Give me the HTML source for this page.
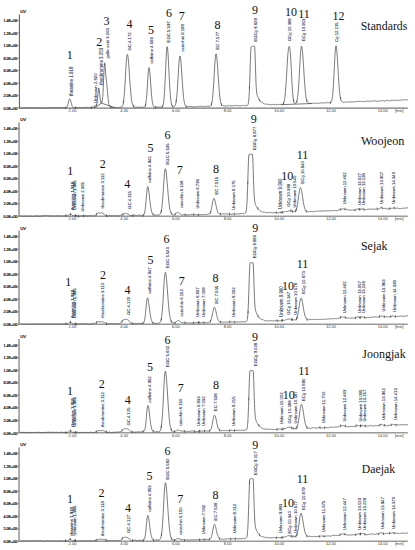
<!DOCTYPE html>
<html><head><meta charset="utf-8"><title>Chromatograms</title><style>
html,body{margin:0;padding:0;background:#fff;}
body{width:415px;height:550px;overflow:hidden;}
svg{display:block;}
.yt{font-family:"Liberation Sans",sans-serif;font-size:4.2px;fill:#111;stroke:#111;stroke-width:0.22px;text-anchor:end;}
.uv{font-family:"Liberation Sans",sans-serif;font-size:4.3px;fill:#111;stroke:#111;stroke-width:0.2px;}
.xt{font-family:"Liberation Sans",sans-serif;font-size:4.0px;fill:#333;text-anchor:middle;}
.pl{font-family:"Liberation Sans",sans-serif;font-size:4.25px;fill:#223050;stroke:#223050;stroke-width:0.08px;}
.plb{font-size:4.3px;stroke:#2b3a55;stroke-width:0.15px;}
.plm{font-size:4.45px;}
.num{font-family:"Liberation Serif",serif;font-size:12px;fill:#111;text-anchor:middle;}
.ttl{font-family:"Liberation Serif",serif;font-size:12.6px;fill:#111;}
</style></head>
<body>
<svg width="415" height="550" viewBox="0 0 415 550">
<rect width="415" height="550" fill="#fff"/>
<g><line x1="19.4" y1="14.40" x2="19.4" y2="108.10" stroke="#555" stroke-width="1.0"/><line x1="18.9" y1="108.10" x2="407.8" y2="108.10" stroke="#555" stroke-width="1.0"/><line x1="17.4" y1="108.10" x2="19.4" y2="108.10" stroke="#555" stroke-width="0.6"/><text x="17.2" y="109.80" class="yt" textLength="13.7" lengthAdjust="spacingAndGlyphs">0.0E+00</text><line x1="17.4" y1="95.57" x2="19.4" y2="95.57" stroke="#555" stroke-width="0.6"/><text x="17.2" y="97.27" class="yt" textLength="13.7" lengthAdjust="spacingAndGlyphs">2.0E+05</text><line x1="17.4" y1="83.04" x2="19.4" y2="83.04" stroke="#555" stroke-width="0.6"/><text x="17.2" y="84.74" class="yt" textLength="13.7" lengthAdjust="spacingAndGlyphs">4.0E+05</text><line x1="17.4" y1="70.51" x2="19.4" y2="70.51" stroke="#555" stroke-width="0.6"/><text x="17.2" y="72.21" class="yt" textLength="13.7" lengthAdjust="spacingAndGlyphs">6.0E+05</text><line x1="17.4" y1="57.98" x2="19.4" y2="57.98" stroke="#555" stroke-width="0.6"/><text x="17.2" y="59.68" class="yt" textLength="13.7" lengthAdjust="spacingAndGlyphs">8.0E+05</text><line x1="17.4" y1="45.45" x2="19.4" y2="45.45" stroke="#555" stroke-width="0.6"/><text x="17.2" y="47.15" class="yt" textLength="13.7" lengthAdjust="spacingAndGlyphs">1.0E+06</text><line x1="17.4" y1="32.92" x2="19.4" y2="32.92" stroke="#555" stroke-width="0.6"/><text x="17.2" y="34.62" class="yt" textLength="13.7" lengthAdjust="spacingAndGlyphs">1.2E+06</text><line x1="17.4" y1="20.39" x2="19.4" y2="20.39" stroke="#555" stroke-width="0.6"/><text x="17.2" y="22.09" class="yt" textLength="13.7" lengthAdjust="spacingAndGlyphs">1.4E+06</text><text x="20.2" y="13.30" class="uv">UV</text><text x="72.50" y="111.80" class="xt">2.00</text><text x="124.20" y="111.80" class="xt">4.00</text><text x="175.90" y="111.80" class="xt">6.00</text><text x="227.60" y="111.80" class="xt">8.00</text><text x="279.30" y="111.80" class="xt">10.00</text><text x="331.00" y="111.80" class="xt">12.00</text><text x="382.70" y="111.80" class="xt">14.00</text><text x="399.3" y="111.80" class="xt">[min]</text><path d="M20.00,107.58 L20.25,107.72 L20.50,107.73 L20.75,107.80 L21.00,107.97 L21.25,108.04 L21.50,108.04 L21.75,107.96 L22.00,107.95 L22.25,107.95 L22.50,107.89 L22.75,107.89 L23.00,107.87 L23.25,107.86 L23.50,107.75 L23.75,107.68 L24.00,107.69 L24.25,107.61 L24.50,107.51 L24.75,107.48 L25.00,107.53 L25.25,107.66 L25.50,107.61 L25.75,107.56 L26.00,107.62 L26.25,107.70 L26.50,107.73 L26.75,107.70 L27.00,107.67 L27.25,107.72 L27.50,107.69 L27.75,107.70 L28.00,107.63 L28.25,107.61 L28.50,107.68 L28.75,107.75 L29.00,107.79 L29.25,107.74 L29.50,107.74 L29.75,107.71 L30.00,107.72 L30.25,107.67 L30.50,107.74 L30.75,107.65 L31.00,107.79 L31.25,107.74 L31.50,107.86 L31.75,107.93 L32.00,107.83 L32.25,107.65 L32.50,107.79 L32.75,107.84 L33.00,107.89 L33.25,107.77 L33.50,107.73 L33.75,107.79 L34.00,107.93 L34.25,107.82 L34.50,107.67 L34.75,107.69 L35.00,107.82 L35.25,107.88 L35.50,107.85 L35.75,107.90 L36.00,107.94 L36.25,108.06 L36.50,108.05 L36.75,107.97 L37.00,107.93 L37.25,107.88 L37.50,107.75 L37.75,107.66 L38.00,107.61 L38.25,107.63 L38.50,107.59 L38.75,107.77 L39.00,107.86 L39.25,107.87 L39.50,108.03 L39.75,107.99 L40.00,108.00 L40.25,108.17 L40.50,108.01 L40.75,108.07 L41.00,108.11 L41.25,108.04 L41.50,107.99 L41.75,107.95 L42.00,107.81 L42.25,107.77 L42.50,107.82 L42.75,107.71 L43.00,107.77 L43.25,107.82 L43.50,107.89 L43.75,107.95 L44.00,108.00 L44.25,107.77 L44.50,107.80 L44.75,107.77 L45.00,107.82 L45.25,107.82 L45.50,107.76 L45.75,107.77 L46.00,107.84 L46.25,107.97 L46.50,107.95 L46.75,107.98 L47.00,107.96 L47.25,107.91 L47.50,107.87 L47.75,107.88 L48.00,107.72 L48.25,107.63 L48.50,107.66 L48.75,107.59 L49.00,107.74 L49.25,107.75 L49.50,107.67 L49.75,107.75 L50.00,107.84 L50.25,107.75 L50.50,107.78 L50.75,107.67 L51.00,107.71 L51.25,107.76 L51.50,107.70 L51.75,107.69 L52.00,107.68 L52.25,107.64 L52.50,107.58 L52.75,107.51 L53.00,107.53 L53.25,107.60 L53.50,107.65 L53.75,107.70 L54.00,107.68 L54.25,107.68 L54.50,107.70 L54.75,107.77 L55.00,107.74 L55.25,107.57 L55.50,107.46 L55.75,107.56 L56.00,107.62 L56.25,107.72 L56.50,107.75 L56.75,107.76 L57.00,107.86 L57.25,107.88 L57.50,107.76 L57.75,107.71 L58.00,107.54 L58.25,107.51 L58.50,107.59 L58.75,107.56 L59.00,107.45 L59.25,107.51 L59.50,107.63 L59.75,107.69 L60.00,107.57 L60.25,107.57 L60.50,107.55 L60.75,107.75 L61.00,107.69 L61.25,107.57 L61.50,107.57 L61.75,107.53 L62.00,107.50 L62.25,107.59 L62.50,107.44 L62.75,107.57 L63.00,107.48 L63.25,107.50 L63.50,107.68 L63.75,107.66 L64.00,107.61 L64.25,107.71 L64.50,107.67 L64.75,107.73 L65.00,107.87 L65.25,107.83 L65.50,107.83 L65.75,107.70 L66.00,107.78 L66.25,107.70 L66.50,107.70 L66.75,107.39 L67.00,107.01 L67.25,106.54 L67.50,105.98 L67.75,105.17 L68.00,104.25 L68.25,103.12 L68.50,101.97 L68.75,100.99 L69.00,100.03 L69.25,99.45 L69.50,98.87 L69.75,98.77 L70.00,99.05 L70.25,99.55 L70.50,100.17 L70.75,100.98 L71.00,101.87 L71.25,102.96 L71.50,103.85 L71.75,104.73 L72.00,105.57 L72.25,106.16 L72.50,106.76 L72.75,107.03 L73.00,107.33 L73.25,107.72 L73.50,107.77 L73.75,107.73 L74.00,107.74 L74.25,107.71 L74.50,107.78 L74.75,107.69 L75.00,107.54 L75.25,107.55 L75.50,107.65 L75.75,107.71 L76.00,107.79 L76.25,107.84 L76.50,107.83 L76.75,107.75 L77.00,107.82 L77.25,107.61 L77.50,107.68 L77.75,107.58 L78.00,107.50 L78.25,107.52 L78.50,107.57 L78.75,107.40 L79.00,107.47 L79.25,107.40 L79.50,107.56 L79.75,107.67 L80.00,107.61 L80.25,107.61 L80.50,107.78 L80.75,107.87 L81.00,107.91 L81.25,107.76 L81.50,107.69 L81.75,107.70 L82.00,107.76 L82.25,107.64 L82.50,107.63 L82.75,107.63 L83.00,107.57 L83.25,107.59 L83.50,107.66 L83.75,107.62 L84.00,107.70 L84.25,107.58 L84.50,107.48 L84.75,107.54 L85.00,107.53 L85.25,107.46 L85.50,107.45 L85.75,107.40 L86.00,107.47 L86.25,107.54 L86.50,107.49 L86.75,107.39 L87.00,107.37 L87.25,107.48 L87.50,107.39 L87.75,107.37 L88.00,107.40 L88.25,107.50 L88.50,107.53 L88.75,107.54 L89.00,107.36 L89.25,107.46 L89.50,107.49 L89.75,107.40 L90.00,107.40 L90.25,107.51 L90.50,107.60 L90.75,107.64 L91.00,107.61 L91.25,107.45 L91.50,107.55 L91.75,107.49 L92.00,107.40 L92.25,107.31 L92.50,107.17 L92.75,107.06 L93.00,107.15 L93.25,107.04 L93.50,107.08 L93.75,107.00 L94.00,106.86 L94.25,106.87 L94.50,106.80 L94.75,106.65 L95.00,106.47 L95.25,106.20 L95.50,106.06 L95.75,106.02 L96.00,105.86 L96.25,105.53 L96.50,105.12 L96.75,104.41 L97.00,103.28 L97.25,101.67 L97.50,99.31 L97.75,96.52 L98.00,93.73 L98.25,91.04 L98.50,88.91 L98.75,88.03 L99.00,88.25 L99.25,89.74 L99.50,91.98 L99.75,94.54 L100.00,97.01 L100.25,99.25 L100.50,100.81 L100.75,101.80 L101.00,102.42 L101.25,102.77 L101.50,102.69 L101.75,102.59 L102.00,101.96 L102.25,100.81 L102.50,99.01 L102.75,96.32 L103.00,92.54 L103.25,87.78 L103.50,82.05 L103.75,76.13 L104.00,70.87 L104.25,66.62 L104.50,64.18 L104.75,63.66 L105.00,65.09 L105.25,67.77 L105.50,71.14 L105.75,74.16 L106.00,76.96 L106.25,79.19 L106.50,81.36 L106.75,83.76 L107.00,86.16 L107.25,88.73 L107.50,91.68 L107.75,94.45 L108.00,97.27 L108.25,99.71 L108.50,101.74 L108.75,103.50 L109.00,104.72 L109.25,105.45 L109.50,106.16 L109.75,106.45 L110.00,106.66 L110.25,106.68 L110.50,106.79 L110.75,106.96 L111.00,107.03 L111.25,106.97 L111.50,107.08 L111.75,107.19 L112.00,107.31 L112.25,107.32 L112.50,107.27 L112.75,107.32 L113.00,107.44 L113.25,107.43 L113.50,107.42 L113.75,107.49 L114.00,107.49 L114.25,107.48 L114.50,107.42 L114.75,107.36 L115.00,107.40 L115.25,107.47 L115.50,107.40 L115.75,107.44 L116.00,107.47 L116.25,107.57 L116.50,107.62 L116.75,107.60 L117.00,107.59 L117.25,107.68 L117.50,107.77 L117.75,107.77 L118.00,107.63 L118.25,107.66 L118.50,107.61 L118.75,107.62 L119.00,107.54 L119.25,107.34 L119.50,107.41 L119.75,107.49 L120.00,107.35 L120.25,107.32 L120.50,107.23 L120.75,107.36 L121.00,107.44 L121.25,107.23 L121.50,107.02 L121.75,106.90 L122.00,106.72 L122.25,106.42 L122.50,105.93 L122.75,105.32 L123.00,104.42 L123.25,103.35 L123.50,101.97 L123.75,99.98 L124.00,97.74 L124.25,94.81 L124.50,91.56 L124.75,87.98 L125.00,83.92 L125.25,79.54 L125.50,75.09 L125.75,70.55 L126.00,66.38 L126.25,62.52 L126.50,59.31 L126.75,56.82 L127.00,55.09 L127.25,54.40 L127.50,54.52 L127.75,55.24 L128.00,56.73 L128.25,58.79 L128.50,61.52 L128.75,64.71 L129.00,68.05 L129.25,71.73 L129.50,75.62 L129.75,79.34 L130.00,83.08 L130.25,86.46 L130.50,89.69 L130.75,92.84 L131.00,95.41 L131.25,97.61 L131.50,99.59 L131.75,101.11 L132.00,102.50 L132.25,103.52 L132.50,104.25 L132.75,104.93 L133.00,105.46 L133.25,105.86 L133.50,106.21 L133.75,106.45 L134.00,106.69 L134.25,106.83 L134.50,106.98 L134.75,107.14 L135.00,107.11 L135.25,107.09 L135.50,107.06 L135.75,107.04 L136.00,107.08 L136.25,107.18 L136.50,107.24 L136.75,107.32 L137.00,107.39 L137.25,107.41 L137.50,107.32 L137.75,107.33 L138.00,107.19 L138.25,107.13 L138.50,107.06 L138.75,106.99 L139.00,107.08 L139.25,107.07 L139.50,107.07 L139.75,107.27 L140.00,107.26 L140.25,107.34 L140.50,107.44 L140.75,107.37 L141.00,107.41 L141.25,107.30 L141.50,107.11 L141.75,107.04 L142.00,106.98 L142.25,107.05 L142.50,107.05 L142.75,107.07 L143.00,107.31 L143.25,107.32 L143.50,107.33 L143.75,107.41 L144.00,107.23 L144.25,107.16 L144.50,107.04 L144.75,106.65 L145.00,106.36 L145.25,105.95 L145.50,105.13 L145.75,104.06 L146.00,102.49 L146.25,100.57 L146.50,98.25 L146.75,95.42 L147.00,91.93 L147.25,88.16 L147.50,84.03 L147.75,79.92 L148.00,76.02 L148.25,72.61 L148.50,69.91 L148.75,68.18 L149.00,67.63 L149.25,68.03 L149.50,69.38 L149.75,71.41 L150.00,74.07 L150.25,77.18 L150.50,80.87 L150.75,84.41 L151.00,87.98 L151.25,91.39 L151.50,94.53 L151.75,97.18 L152.00,99.49 L152.25,101.28 L152.50,102.77 L152.75,104.12 L153.00,104.92 L153.25,105.65 L153.50,106.19 L153.75,106.46 L154.00,106.72 L154.25,107.02 L154.50,107.02 L154.75,107.21 L155.00,107.23 L155.25,107.24 L155.50,107.38 L155.75,107.39 L156.00,107.35 L156.25,107.26 L156.50,107.24 L156.75,107.11 L157.00,107.15 L157.25,107.07 L157.50,107.08 L157.75,107.05 L158.00,107.10 L158.25,107.09 L158.50,107.27 L158.75,107.21 L159.00,107.25 L159.25,107.14 L159.50,107.17 L159.75,107.22 L160.00,107.18 L160.25,107.16 L160.50,107.12 L160.75,107.15 L161.00,107.15 L161.25,107.07 L161.50,107.02 L161.75,107.10 L162.00,106.89 L162.25,106.72 L162.50,106.44 L162.75,106.06 L163.00,105.47 L163.25,104.52 L163.50,103.02 L163.75,101.21 L164.00,98.90 L164.25,95.78 L164.50,92.05 L164.75,87.70 L165.00,82.75 L165.25,77.40 L165.50,71.63 L165.75,65.69 L166.00,60.11 L166.25,55.19 L166.50,51.18 L166.75,48.35 L167.00,46.77 L167.25,46.84 L167.50,48.09 L167.75,50.49 L168.00,53.70 L168.25,57.66 L168.50,62.35 L168.75,67.40 L169.00,72.37 L169.25,77.49 L169.50,82.42 L169.75,86.77 L170.00,90.69 L170.25,94.07 L170.50,97.00 L170.75,99.61 L171.00,101.44 L171.25,102.80 L171.50,104.11 L171.75,105.02 L172.00,105.63 L172.25,105.97 L172.50,106.20 L172.75,106.36 L173.00,106.55 L173.25,106.63 L173.50,106.66 L173.75,106.66 L174.00,106.69 L174.25,106.52 L174.50,106.38 L174.75,106.16 L175.00,105.71 L175.25,105.19 L175.50,104.39 L175.75,103.49 L176.00,102.42 L176.25,100.91 L176.50,98.88 L176.75,96.62 L177.00,93.80 L177.25,90.61 L177.50,86.88 L177.75,82.88 L178.00,78.70 L178.25,74.34 L178.50,69.97 L178.75,65.95 L179.00,62.49 L179.25,59.51 L179.50,57.35 L179.75,56.21 L180.00,55.99 L180.25,56.63 L180.50,57.98 L180.75,59.95 L181.00,62.71 L181.25,65.94 L181.50,69.40 L181.75,73.22 L182.00,77.07 L182.25,80.88 L182.50,84.64 L182.75,88.12 L183.00,91.21 L183.25,94.02 L183.50,96.55 L183.75,98.80 L184.00,100.68 L184.25,102.06 L184.50,103.21 L184.75,104.09 L185.00,104.93 L185.25,105.46 L185.50,105.72 L185.75,106.08 L186.00,106.39 L186.25,106.65 L186.50,106.73 L186.75,106.69 L187.00,106.75 L187.25,106.82 L187.50,106.73 L187.75,106.62 L188.00,106.46 L188.25,106.48 L188.50,106.46 L188.75,106.38 L189.00,106.34 L189.25,106.26 L189.50,106.42 L189.75,106.47 L190.00,106.52 L190.25,106.53 L190.50,106.59 L190.75,106.64 L191.00,106.67 L191.25,106.55 L191.50,106.56 L191.75,106.62 L192.00,106.71 L192.25,106.73 L192.50,106.84 L192.75,106.89 L193.00,106.95 L193.25,107.07 L193.50,107.12 L193.75,107.07 L194.00,107.05 L194.25,106.81 L194.50,106.72 L194.75,106.72 L195.00,106.63 L195.25,106.58 L195.50,106.59 L195.75,106.57 L196.00,106.71 L196.25,106.79 L196.50,106.69 L196.75,106.62 L197.00,106.44 L197.25,106.47 L197.50,106.40 L197.75,106.42 L198.00,106.47 L198.25,106.54 L198.50,106.68 L198.75,106.79 L199.00,106.54 L199.25,106.50 L199.50,106.37 L199.75,106.19 L200.00,106.27 L200.25,106.14 L200.50,106.12 L200.75,106.25 L201.00,106.39 L201.25,106.62 L201.50,106.55 L201.75,106.38 L202.00,106.38 L202.25,106.42 L202.50,106.42 L202.75,106.43 L203.00,106.25 L203.25,106.36 L203.50,106.43 L203.75,106.47 L204.00,106.44 L204.25,106.44 L204.50,106.38 L204.75,106.38 L205.00,106.37 L205.25,106.36 L205.50,106.38 L205.75,106.30 L206.00,106.22 L206.25,106.15 L206.50,106.31 L206.75,106.34 L207.00,106.27 L207.25,106.21 L207.50,106.20 L207.75,106.30 L208.00,106.28 L208.25,106.13 L208.50,106.25 L208.75,106.32 L209.00,106.32 L209.25,106.41 L209.50,106.40 L209.75,106.30 L210.00,106.26 L210.25,105.94 L210.50,105.82 L210.75,105.67 L211.00,105.30 L211.25,104.71 L211.50,104.16 L211.75,103.19 L212.00,101.98 L212.25,100.38 L212.50,98.33 L212.75,96.00 L213.00,93.17 L213.25,89.79 L213.50,86.14 L213.75,82.22 L214.00,77.97 L214.25,73.61 L214.50,69.16 L214.75,65.14 L215.00,61.44 L215.25,58.42 L215.50,56.02 L215.75,54.42 L216.00,53.79 L216.25,54.24 L216.50,55.26 L216.75,57.00 L217.00,59.28 L217.25,62.36 L217.50,65.76 L217.75,69.35 L218.00,73.16 L218.25,76.96 L218.50,80.97 L218.75,84.51 L219.00,87.75 L219.25,90.76 L219.50,93.56 L219.75,96.03 L220.00,98.21 L220.25,99.78 L220.50,101.39 L220.75,102.49 L221.00,103.52 L221.25,104.22 L221.50,104.64 L221.75,105.03 L222.00,105.32 L222.25,105.38 L222.50,105.56 L222.75,105.60 L223.00,105.73 L223.25,105.78 L223.50,105.83 L223.75,105.86 L224.00,105.96 L224.25,106.04 L224.50,106.01 L224.75,106.01 L225.00,105.97 L225.25,105.94 L225.50,105.98 L225.75,105.92 L226.00,105.80 L226.25,105.90 L226.50,105.97 L226.75,105.95 L227.00,105.89 L227.25,105.82 L227.50,105.92 L227.75,105.89 L228.00,105.73 L228.25,105.61 L228.50,105.61 L228.75,105.56 L229.00,105.69 L229.25,105.64 L229.50,105.56 L229.75,105.76 L230.00,105.89 L230.25,105.84 L230.50,105.93 L230.75,105.88 L231.00,105.91 L231.25,105.93 L231.50,105.86 L231.75,105.80 L232.00,105.96 L232.25,105.86 L232.50,105.83 L232.75,105.72 L233.00,105.72 L233.25,105.67 L233.50,105.72 L233.75,105.66 L234.00,105.70 L234.25,105.61 L234.50,105.71 L234.75,105.82 L235.00,105.83 L235.25,105.71 L235.50,105.70 L235.75,105.68 L236.00,105.70 L236.25,105.63 L236.50,105.61 L236.75,105.56 L237.00,105.56 L237.25,105.42 L237.50,105.50 L237.75,105.47 L238.00,105.47 L238.25,105.53 L238.50,105.60 L238.75,105.70 L239.00,105.78 L239.25,105.65 L239.50,105.86 L239.75,105.91 L240.00,105.79 L240.25,105.77 L240.50,105.64 L240.75,105.70 L241.00,105.76 L241.25,105.77 L241.50,105.75 L241.75,105.74 L242.00,105.65 L242.25,105.59 L242.50,105.51 L242.75,105.55 L243.00,105.41 L243.25,105.47 L243.50,105.43 L243.75,105.42 L244.00,105.57 L244.25,105.45 L244.50,105.47 L244.75,105.41 L245.00,105.34 L245.25,105.52 L245.50,105.56 L245.75,105.57 L246.00,105.60 L246.25,105.57 L246.50,105.59 L246.75,105.55 L247.00,105.41 L247.25,105.41 L247.50,105.17 L247.75,104.98 L248.00,104.49 L248.25,103.73 L248.50,102.30 L248.75,100.31 L249.00,97.24 L249.25,92.97 L249.50,87.39 L249.75,80.62 L250.00,72.83 L250.25,64.88 L250.50,57.35 L250.75,51.23 L251.00,47.58 L251.25,46.62 L251.50,46.59 L251.75,46.48 L252.00,46.46 L252.25,46.37 L252.50,46.36 L252.75,46.24 L253.00,46.23 L253.25,46.11 L253.50,46.19 L253.75,46.32 L254.00,46.32 L254.25,46.41 L254.50,46.39 L254.75,47.85 L255.00,52.90 L255.25,60.30 L255.50,68.41 L255.75,76.23 L256.00,82.61 L256.25,87.60 L256.50,90.86 L256.75,93.04 L257.00,94.39 L257.25,95.36 L257.50,96.11 L257.75,96.77 L258.00,97.31 L258.25,97.97 L258.50,98.45 L258.75,99.01 L259.00,99.37 L259.25,99.68 L259.50,100.12 L259.75,100.45 L260.00,100.79 L260.25,101.20 L260.50,101.31 L260.75,101.60 L261.00,101.84 L261.25,101.95 L261.50,102.16 L261.75,102.31 L262.00,102.44 L262.25,102.76 L262.50,102.81 L262.75,103.00 L263.00,103.08 L263.25,103.30 L263.50,103.36 L263.75,103.39 L264.00,103.39 L264.25,103.70 L264.50,103.80 L264.75,103.98 L265.00,103.96 L265.25,104.08 L265.50,104.25 L265.75,104.31 L266.00,104.23 L266.25,104.20 L266.50,104.20 L266.75,104.09 L267.00,104.20 L267.25,104.19 L267.50,104.14 L267.75,104.26 L268.00,104.34 L268.25,104.33 L268.50,104.53 L268.75,104.49 L269.00,104.41 L269.25,104.53 L269.50,104.43 L269.75,104.45 L270.00,104.41 L270.25,104.51 L270.50,104.60 L270.75,104.78 L271.00,104.78 L271.25,104.76 L271.50,104.74 L271.75,104.84 L272.00,104.62 L272.25,104.54 L272.50,104.42 L272.75,104.45 L273.00,104.44 L273.25,104.53 L273.50,104.44 L273.75,104.48 L274.00,104.36 L274.25,104.43 L274.50,104.45 L274.75,104.45 L275.00,104.38 L275.25,104.48 L275.50,104.61 L275.75,104.67 L276.00,104.76 L276.25,104.71 L276.50,104.69 L276.75,104.72 L277.00,104.66 L277.25,104.54 L277.50,104.55 L277.75,104.36 L278.00,104.29 L278.25,104.37 L278.50,104.42 L278.75,104.46 L279.00,104.53 L279.25,104.53 L279.50,104.51 L279.75,104.50 L280.00,104.51 L280.25,104.42 L280.50,104.39 L280.75,104.37 L281.00,104.31 L281.25,104.33 L281.50,104.34 L281.75,104.34 L282.00,104.48 L282.25,104.47 L282.50,104.29 L282.75,104.26 L283.00,104.12 L283.25,103.90 L283.50,103.43 L283.75,102.76 L284.00,101.92 L284.25,101.07 L284.50,99.87 L284.75,98.24 L285.00,96.26 L285.25,93.90 L285.50,91.09 L285.75,87.97 L286.00,84.29 L286.25,80.24 L286.50,76.05 L286.75,71.79 L287.00,67.32 L287.25,63.09 L287.50,59.14 L287.75,55.63 L288.00,52.70 L288.25,50.36 L288.50,48.50 L288.75,47.34 L289.00,46.62 L289.25,46.36 L289.50,46.77 L289.75,47.66 L290.00,49.36 L290.25,51.78 L290.50,55.15 L290.75,59.17 L291.00,63.78 L291.25,68.63 L291.50,73.68 L291.75,78.59 L292.00,83.31 L292.25,87.45 L292.50,91.21 L292.75,94.31 L293.00,96.83 L293.25,98.89 L293.50,100.39 L293.75,101.52 L294.00,102.35 L294.25,102.90 L294.50,103.27 L294.75,103.50 L295.00,103.50 L295.25,103.57 L295.50,103.50 L295.75,103.36 L296.00,103.02 L296.25,102.67 L296.50,102.19 L296.75,101.65 L297.00,100.66 L297.25,99.45 L297.50,98.02 L297.75,96.07 L298.00,93.67 L298.25,90.83 L298.50,87.53 L298.75,83.81 L299.00,79.78 L299.25,75.33 L299.50,70.87 L299.75,66.23 L300.00,61.82 L300.25,57.63 L300.50,53.79 L300.75,50.57 L301.00,48.13 L301.25,46.68 L301.50,46.20 L301.75,46.40 L302.00,47.38 L302.25,49.30 L302.50,51.69 L302.75,54.72 L303.00,58.13 L303.25,61.73 L303.50,65.67 L303.75,69.63 L304.00,73.61 L304.25,77.59 L304.50,81.19 L304.75,84.44 L305.00,87.71 L305.25,90.45 L305.50,93.02 L305.75,95.18 L306.00,96.82 L306.25,98.42 L306.50,99.64 L306.75,100.51 L307.00,101.27 L307.25,101.71 L307.50,102.03 L307.75,102.43 L308.00,102.63 L308.25,102.84 L308.50,103.02 L308.75,103.19 L309.00,103.35 L309.25,103.44 L309.50,103.31 L309.75,103.25 L310.00,103.33 L310.25,103.32 L310.50,103.36 L310.75,103.35 L311.00,103.21 L311.25,103.37 L311.50,103.36 L311.75,103.33 L312.00,103.32 L312.25,103.18 L312.50,103.31 L312.75,103.46 L313.00,103.34 L313.25,103.46 L313.50,103.35 L313.75,103.27 L314.00,103.28 L314.25,103.08 L314.50,103.00 L314.75,103.14 L315.00,103.04 L315.25,103.08 L315.50,103.23 L315.75,103.25 L316.00,103.38 L316.25,103.41 L316.50,103.37 L316.75,103.45 L317.00,103.58 L317.25,103.47 L317.50,103.36 L317.75,103.32 L318.00,103.29 L318.25,103.32 L318.50,103.41 L318.75,103.16 L319.00,103.17 L319.25,103.32 L319.50,103.18 L319.75,103.13 L320.00,102.99 L320.25,102.78 L320.50,102.86 L320.75,102.78 L321.00,102.71 L321.25,102.76 L321.50,102.86 L321.75,103.00 L322.00,103.03 L322.25,103.03 L322.50,103.21 L322.75,103.16 L323.00,103.10 L323.25,103.10 L323.50,103.04 L323.75,102.94 L324.00,103.00 L324.25,102.86 L324.50,102.82 L324.75,102.86 L325.00,102.77 L325.25,102.70 L325.50,102.78 L325.75,102.71 L326.00,102.82 L326.25,102.84 L326.50,102.89 L326.75,102.80 L327.00,102.69 L327.25,102.63 L327.50,102.76 L327.75,102.60 L328.00,102.60 L328.25,102.60 L328.50,102.76 L328.75,102.82 L329.00,102.91 L329.25,102.77 L329.50,102.80 L329.75,102.72 L330.00,102.77 L330.25,102.55 L330.50,102.56 L330.75,102.38 L331.00,102.09 L331.25,101.72 L331.50,101.39 L331.75,100.46 L332.00,99.53 L332.25,98.17 L332.50,96.40 L332.75,94.25 L333.00,91.40 L333.25,87.77 L333.50,83.88 L333.75,79.42 L334.00,74.56 L334.25,69.42 L334.50,64.20 L334.75,59.26 L335.00,54.73 L335.25,50.85 L335.50,47.95 L335.75,46.26 L336.00,45.76 L336.25,46.36 L336.50,47.90 L336.75,50.24 L337.00,53.29 L337.25,56.73 L337.50,60.61 L337.75,64.89 L338.00,69.11 L338.25,73.40 L338.50,77.53 L338.75,81.28 L339.00,84.98 L339.25,88.17 L339.50,90.84 L339.75,93.32 L340.00,95.20 L340.25,96.89 L340.50,98.28 L340.75,99.35 L341.00,100.07 L341.25,100.71 L341.50,100.99 L341.75,101.36 L342.00,101.54 L342.25,101.82 L342.50,101.93 L342.75,102.03 L343.00,102.19 L343.25,102.33 L343.50,102.38 L343.75,102.38 L344.00,102.24 L344.25,102.21 L344.50,102.18 L344.75,102.13 L345.00,102.10 L345.25,102.01 L345.50,102.00 L345.75,101.99 L346.00,101.85 L346.25,101.92 L346.50,101.88 L346.75,101.99 L347.00,101.96 L347.25,102.06 L347.50,102.12 L347.75,102.25 L348.00,102.17 L348.25,102.17 L348.50,102.07 L348.75,102.11 L349.00,102.05 L349.25,102.01 L349.50,102.03 L349.75,102.08 L350.00,102.13 L350.25,102.05 L350.50,101.99 L350.75,101.92 L351.00,101.89 L351.25,101.86 L351.50,101.78 L351.75,101.79 L352.00,101.99 L352.25,102.11 L352.50,102.05 L352.75,102.04 L353.00,101.91 L353.25,101.97 L353.50,101.81 L353.75,101.55 L354.00,101.41 L354.25,101.48 L354.50,101.42 L354.75,101.53 L355.00,101.37 L355.25,101.49 L355.50,101.63 L355.75,101.68 L356.00,101.73 L356.25,101.68 L356.50,101.61 L356.75,101.75 L357.00,101.57 L357.25,101.43 L357.50,101.45 L357.75,101.30 L358.00,101.32 L358.25,101.38 L358.50,101.36 L358.75,101.44 L359.00,101.44 L359.25,101.32 L359.50,101.31 L359.75,101.40 L360.00,101.47 L360.25,101.53 L360.50,101.45 L360.75,101.45 L361.00,101.46 L361.25,101.55 L361.50,101.50 L361.75,101.36 L362.00,101.22 L362.25,101.29 L362.50,101.41 L362.75,101.55 L363.00,101.54 L363.25,101.54 L363.50,101.48 L363.75,101.56 L364.00,101.68 L364.25,101.73 L364.50,101.64 L364.75,101.54 L365.00,101.54 L365.25,101.66 L365.50,101.57 L365.75,101.34 L366.00,101.15 L366.25,101.08 L366.50,101.12 L366.75,101.11 L367.00,101.05 L367.25,101.04 L367.50,101.02 L367.75,101.21 L368.00,101.28 L368.25,101.31 L368.50,101.30 L368.75,101.30 L369.00,101.34 L369.25,101.49 L369.50,101.32 L369.75,101.20 L370.00,101.24 L370.25,101.19 L370.50,101.10 L370.75,101.12 L371.00,101.06 L371.25,101.16 L371.50,101.13 L371.75,101.00 L372.00,101.03 L372.25,100.96 L372.50,100.86 L372.75,100.96 L373.00,100.84 L373.25,100.91 L373.50,100.98 L373.75,100.92 L374.00,101.06 L374.25,101.03 L374.50,100.89 L374.75,100.80 L375.00,100.81 L375.25,100.99 L375.50,100.90 L375.75,100.83 L376.00,101.00 L376.25,101.05 L376.50,101.21 L376.75,101.13 L377.00,101.01 L377.25,101.05 L377.50,101.10 L377.75,100.92 L378.00,100.92 L378.25,100.93 L378.50,100.94 L378.75,100.91 L379.00,100.94 L379.25,101.00 L379.50,101.12 L379.75,101.09 L380.00,100.89 L380.25,100.89 L380.50,100.97 L380.75,101.19 L381.00,100.96 L381.25,100.87 L381.50,100.92 L381.75,100.97 L382.00,100.93 L382.25,100.69 L382.50,100.48 L382.75,100.61 L383.00,100.58 L383.25,100.57 L383.50,100.65 L383.75,100.76 L384.00,100.91 L384.25,100.99 L384.50,101.04 L384.75,101.15 L385.00,101.04 L385.25,101.00 L385.50,100.93 L385.75,100.86 L386.00,100.73 L386.25,100.60 L386.50,100.40 L386.75,100.40 L387.00,100.37 L387.25,100.38 L387.50,100.34 L387.75,100.29 L388.00,100.49 L388.25,100.56 L388.50,100.63 L388.75,100.62 L389.00,100.58 L389.25,100.72 L389.50,100.88 L389.75,100.70 L390.00,100.58 L390.25,100.58 L390.50,100.62 L390.75,100.64 L391.00,100.57 L391.25,100.41 L391.50,100.26 L391.75,100.41 L392.00,100.30 L392.25,100.29 L392.50,100.17 L392.75,100.14 L393.00,100.16 L393.25,100.29 L393.50,100.21 L393.75,100.23 L394.00,100.25 L394.25,100.22 L394.50,100.33 L394.75,100.35 L395.00,100.35 L395.25,100.47 L395.50,100.33 L395.75,100.25 L396.00,100.38 L396.25,100.31 L396.50,100.29 L396.75,100.26 L397.00,100.21 L397.25,100.37 L397.50,100.29 L397.75,100.24 L398.00,100.19 L398.25,100.28 L398.50,100.32 L398.75,100.25 L399.00,100.24 L399.25,100.29 L399.50,100.30 L399.75,100.26 L400.00,100.15 L400.25,100.12 L400.50,100.17 L400.75,100.12 L401.00,100.11 L401.25,99.95 L401.50,99.91 L401.75,100.01 L402.00,99.84 L402.25,99.82 L402.50,99.85 L402.75,99.87 L403.00,100.01 L403.25,100.04 L403.50,99.95 L403.75,100.08 L404.00,99.99 L404.25,99.83 L404.50,99.83 L404.75,99.72 L405.00,99.67 L405.25,99.59 L405.50,99.56 L405.75,99.61 L406.00,99.66 L406.25,99.72 L406.50,99.80 L406.75,99.92 L407.00,99.93 L407.25,99.92 L407.50,99.93 L407.75,99.99 L408.00,99.89" fill="none" stroke="#4d4d4d" stroke-width="0.75"/><path d="M65.60,106.53V109.13M75.60,106.35V108.95M91.60,106.25V108.85M96.40,103.82V106.42M94.80,105.35V107.95M104.80,62.36V64.96M101.00,101.12V103.72M111.00,105.73V108.33M123.40,100.67V103.27M133.40,104.91V107.51M145.60,103.83V106.43M155.60,106.08V108.68M162.40,105.14V107.74M172.40,104.90V107.50M176.20,99.61V102.21M186.20,105.35V107.95M211.50,102.86V105.46M221.50,103.34V105.94M249.40,86.09V88.69M259.40,98.82V101.42M283.60,102.13V104.73M293.60,99.09V101.69M296.80,100.35V102.95M306.80,99.21V101.81M330.60,101.26V103.86M340.60,96.98V99.58" fill="none" stroke="#333" stroke-width="0.6"/><path d="M95.2,107.5L101.5,103.1L114.5,107.6M281,104.7L312,103.5" fill="none" stroke="#4d4d4d" stroke-width="0.75"/><text class="pl plm" transform="translate(73.30,96.00) rotate(-90)">theanine 1.918</text><text class="pl" transform="translate(97.00,103.00) rotate(-90)">Unknown 2.820</text><text class="pl plm" transform="translate(102.50,84.80) rotate(-90)">theobromine 3.053</text><text class="pl" transform="translate(108.70,58.60) rotate(-90)">gallic acid 3.263</text><text class="pl" transform="translate(131.10,50.50) rotate(-90)">GC 4.172</text><text class="pl" transform="translate(153.30,63.80) rotate(-90)">caffeine 4.566</text><text class="pl" transform="translate(170.10,42.40) rotate(-90)">EGC 5.597</text><text class="pl" transform="translate(183.90,51.80) rotate(-90)">catechin 6.188</text><text class="pl" transform="translate(219.20,49.60) rotate(-90)">EC 7.577</text><text class="pl" transform="translate(257.10,41.60) rotate(-90)">EGCg 8.828</text><text class="pl" transform="translate(291.30,41.20) rotate(-90)">GCg 10.388</text><text class="pl" transform="translate(304.50,41.00) rotate(-90)">ECg 10.913</text><text class="pl" transform="translate(338.30,41.90) rotate(-90)">Cg 12.215</text><text class="num" x="69.70" y="59.20">1</text><text class="num" x="99.30" y="45.80">2</text><text class="num" x="106.50" y="24.80">3</text><text class="num" x="129.40" y="28.00">4</text><text class="num" x="151.00" y="34.00">5</text><text class="num" x="169.00" y="16.50">6</text><text class="num" x="181.80" y="20.40">7</text><text class="num" x="217.50" y="28.60">8</text><text class="num" x="254.90" y="14.40">9</text><text class="num" x="291.00" y="15.60">10</text><text class="num" x="304.00" y="17.60">11</text><text class="num" x="338.60" y="19.60">12</text><text class="ttl" x="360.80" y="30.20" textLength="46.5" lengthAdjust="spacingAndGlyphs">Standards</text></g>
<g><line x1="19.05" y1="122.50" x2="19.05" y2="216.20" stroke="#9a9a9a" stroke-width="1.6"/><line x1="18.25" y1="216.20" x2="407.8" y2="216.20" stroke="#9a9a9a" stroke-width="1.6"/><line x1="17.4" y1="216.20" x2="19.05" y2="216.20" stroke="#555" stroke-width="0.6"/><text x="17.2" y="217.90" class="yt" textLength="13.7" lengthAdjust="spacingAndGlyphs">0.0E+00</text><line x1="17.4" y1="203.67" x2="19.05" y2="203.67" stroke="#555" stroke-width="0.6"/><text x="17.2" y="205.37" class="yt" textLength="13.7" lengthAdjust="spacingAndGlyphs">2.0E+05</text><line x1="17.4" y1="191.14" x2="19.05" y2="191.14" stroke="#555" stroke-width="0.6"/><text x="17.2" y="192.84" class="yt" textLength="13.7" lengthAdjust="spacingAndGlyphs">4.0E+05</text><line x1="17.4" y1="178.61" x2="19.05" y2="178.61" stroke="#555" stroke-width="0.6"/><text x="17.2" y="180.31" class="yt" textLength="13.7" lengthAdjust="spacingAndGlyphs">6.0E+05</text><line x1="17.4" y1="166.08" x2="19.05" y2="166.08" stroke="#555" stroke-width="0.6"/><text x="17.2" y="167.78" class="yt" textLength="13.7" lengthAdjust="spacingAndGlyphs">8.0E+05</text><line x1="17.4" y1="153.55" x2="19.05" y2="153.55" stroke="#555" stroke-width="0.6"/><text x="17.2" y="155.25" class="yt" textLength="13.7" lengthAdjust="spacingAndGlyphs">1.0E+06</text><line x1="17.4" y1="141.02" x2="19.05" y2="141.02" stroke="#555" stroke-width="0.6"/><text x="17.2" y="142.72" class="yt" textLength="13.7" lengthAdjust="spacingAndGlyphs">1.2E+06</text><line x1="17.4" y1="128.49" x2="19.05" y2="128.49" stroke="#555" stroke-width="0.6"/><text x="17.2" y="130.19" class="yt" textLength="13.7" lengthAdjust="spacingAndGlyphs">1.4E+06</text><text x="20.2" y="121.40" class="uv">UV</text><text x="72.50" y="219.90" class="xt">2.00</text><text x="124.20" y="219.90" class="xt">4.00</text><text x="175.90" y="219.90" class="xt">6.00</text><text x="227.60" y="219.90" class="xt">8.00</text><text x="279.30" y="219.90" class="xt">10.00</text><text x="331.00" y="219.90" class="xt">12.00</text><text x="382.70" y="219.90" class="xt">14.00</text><text x="399.3" y="219.90" class="xt">[min]</text><path d="M20.00,215.64 L20.25,215.62 L20.50,215.77 L20.75,215.82 L21.00,216.02 L21.25,216.05 L21.50,216.13 L21.75,216.17 L22.00,216.25 L22.25,216.22 L22.50,216.16 L22.75,216.15 L23.00,216.29 L23.25,216.15 L23.50,216.14 L23.75,216.17 L24.00,216.09 L24.25,216.11 L24.50,216.07 L24.75,215.91 L25.00,215.98 L25.25,216.05 L25.50,215.91 L25.75,216.01 L26.00,216.04 L26.25,216.04 L26.50,215.97 L26.75,216.00 L27.00,215.86 L27.25,216.20 L27.50,216.13 L27.75,216.13 L28.00,216.17 L28.25,216.09 L28.50,216.15 L28.75,216.20 L29.00,216.10 L29.25,216.07 L29.50,216.17 L29.75,216.25 L30.00,216.19 L30.25,216.08 L30.50,216.07 L30.75,215.93 L31.00,216.04 L31.25,216.00 L31.50,215.87 L31.75,216.17 L32.00,216.20 L32.25,216.31 L32.50,216.32 L32.75,216.29 L33.00,216.11 L33.25,216.07 L33.50,215.96 L33.75,216.10 L34.00,216.04 L34.25,216.05 L34.50,216.04 L34.75,216.14 L35.00,216.14 L35.25,216.11 L35.50,216.01 L35.75,215.91 L36.00,215.92 L36.25,215.80 L36.50,215.84 L36.75,215.80 L37.00,215.81 L37.25,215.85 L37.50,215.90 L37.75,215.92 L38.00,216.04 L38.25,216.03 L38.50,216.09 L38.75,216.21 L39.00,216.14 L39.25,216.16 L39.50,216.13 L39.75,216.01 L40.00,216.09 L40.25,216.09 L40.50,215.96 L40.75,215.95 L41.00,215.95 L41.25,215.97 L41.50,216.05 L41.75,215.94 L42.00,215.84 L42.25,215.75 L42.50,215.70 L42.75,215.65 L43.00,215.66 L43.25,215.58 L43.50,215.47 L43.75,215.69 L44.00,215.71 L44.25,215.70 L44.50,215.71 L44.75,215.63 L45.00,215.57 L45.25,215.56 L45.50,215.39 L45.75,215.33 L46.00,215.37 L46.25,215.33 L46.50,215.37 L46.75,215.45 L47.00,215.62 L47.25,215.67 L47.50,215.68 L47.75,215.71 L48.00,215.75 L48.25,215.71 L48.50,215.73 L48.75,215.64 L49.00,215.66 L49.25,215.84 L49.50,215.90 L49.75,215.86 L50.00,215.86 L50.25,215.79 L50.50,215.83 L50.75,215.84 L51.00,215.86 L51.25,215.70 L51.50,215.81 L51.75,215.78 L52.00,215.93 L52.25,215.99 L52.50,215.99 L52.75,215.91 L53.00,216.05 L53.25,215.93 L53.50,215.95 L53.75,215.85 L54.00,215.83 L54.25,215.89 L54.50,215.90 L54.75,215.88 L55.00,215.94 L55.25,215.94 L55.50,215.97 L55.75,216.00 L56.00,215.99 L56.25,215.87 L56.50,215.82 L56.75,215.81 L57.00,215.84 L57.25,215.79 L57.50,215.72 L57.75,215.60 L58.00,215.63 L58.25,215.83 L58.50,215.86 L58.75,215.68 L59.00,215.80 L59.25,215.80 L59.50,215.81 L59.75,215.86 L60.00,215.58 L60.25,215.66 L60.50,215.94 L60.75,215.86 L61.00,215.92 L61.25,216.06 L61.50,216.02 L61.75,216.09 L62.00,216.01 L62.25,215.95 L62.50,215.92 L62.75,215.88 L63.00,215.86 L63.25,215.86 L63.50,215.85 L63.75,215.85 L64.00,215.77 L64.25,215.86 L64.50,215.87 L64.75,215.85 L65.00,215.80 L65.25,215.79 L65.50,215.65 L65.75,215.59 L66.00,215.54 L66.25,215.60 L66.50,215.52 L66.75,215.62 L67.00,215.64 L67.25,215.81 L67.50,215.82 L67.75,215.70 L68.00,215.49 L68.25,215.36 L68.50,215.22 L68.75,215.15 L69.00,214.87 L69.25,214.73 L69.50,214.58 L69.75,214.38 L70.00,214.31 L70.25,214.13 L70.50,214.02 L70.75,214.08 L71.00,214.18 L71.25,214.31 L71.50,214.68 L71.75,214.82 L72.00,215.11 L72.25,215.35 L72.50,215.49 L72.75,215.60 L73.00,215.64 L73.25,215.55 L73.50,215.63 L73.75,215.76 L74.00,215.60 L74.25,215.54 L74.50,215.52 L74.75,215.57 L75.00,215.54 L75.25,215.62 L75.50,215.47 L75.75,215.58 L76.00,215.74 L76.25,215.77 L76.50,215.78 L76.75,215.74 L77.00,215.62 L77.25,215.78 L77.50,215.91 L77.75,215.85 L78.00,215.88 L78.25,215.97 L78.50,216.18 L78.75,216.25 L79.00,216.22 L79.25,216.14 L79.50,216.08 L79.75,216.05 L80.00,216.03 L80.25,216.01 L80.50,216.01 L80.75,215.82 L81.00,215.81 L81.25,215.75 L81.50,215.82 L81.75,215.78 L82.00,215.66 L82.25,215.70 L82.50,215.81 L82.75,215.86 L83.00,215.94 L83.25,215.81 L83.50,215.83 L83.75,215.87 L84.00,215.84 L84.25,215.99 L84.50,215.72 L84.75,215.72 L85.00,215.74 L85.25,215.67 L85.50,215.67 L85.75,215.49 L86.00,215.47 L86.25,215.67 L86.50,215.74 L86.75,215.81 L87.00,215.79 L87.25,215.84 L87.50,216.09 L87.75,216.04 L88.00,215.99 L88.25,215.90 L88.50,215.83 L88.75,215.77 L89.00,215.76 L89.25,215.60 L89.50,215.48 L89.75,215.52 L90.00,215.64 L90.25,215.63 L90.50,215.78 L90.75,215.77 L91.00,215.90 L91.25,215.83 L91.50,215.82 L91.75,215.80 L92.00,215.87 L92.25,215.84 L92.50,215.81 L92.75,215.85 L93.00,216.02 L93.25,215.96 L93.50,215.83 L93.75,215.84 L94.00,215.75 L94.25,215.72 L94.50,215.67 L94.75,215.50 L95.00,215.47 L95.25,215.32 L95.50,215.10 L95.75,214.92 L96.00,214.78 L96.25,214.41 L96.50,214.32 L96.75,214.03 L97.00,213.81 L97.25,213.70 L97.50,213.48 L97.75,213.15 L98.00,213.06 L98.25,212.77 L98.50,212.70 L98.75,212.78 L99.00,212.79 L99.25,212.90 L99.50,213.08 L99.75,212.90 L100.00,212.96 L100.25,212.97 L100.50,213.03 L100.75,212.79 L101.00,212.82 L101.25,212.65 L101.50,212.79 L101.75,212.87 L102.00,212.99 L102.25,213.01 L102.50,213.35 L102.75,213.38 L103.00,213.54 L103.25,213.74 L103.50,213.87 L103.75,214.08 L104.00,214.25 L104.25,214.43 L104.50,214.69 L104.75,214.92 L105.00,214.97 L105.25,215.17 L105.50,215.23 L105.75,215.47 L106.00,215.46 L106.25,215.54 L106.50,215.73 L106.75,216.02 L107.00,216.03 L107.25,216.07 L107.50,215.91 L107.75,215.94 L108.00,215.88 L108.25,215.69 L108.50,215.53 L108.75,215.49 L109.00,215.36 L109.25,215.39 L109.50,215.44 L109.75,215.49 L110.00,215.69 L110.25,215.71 L110.50,215.79 L110.75,215.85 L111.00,215.81 L111.25,215.79 L111.50,215.72 L111.75,215.53 L112.00,215.55 L112.25,215.45 L112.50,215.50 L112.75,215.61 L113.00,215.57 L113.25,215.71 L113.50,215.74 L113.75,215.78 L114.00,215.75 L114.25,215.81 L114.50,215.74 L114.75,215.70 L115.00,215.58 L115.25,215.60 L115.50,215.61 L115.75,215.77 L116.00,215.78 L116.25,215.82 L116.50,215.90 L116.75,215.87 L117.00,215.91 L117.25,215.90 L117.50,215.88 L117.75,215.91 L118.00,215.89 L118.25,215.81 L118.50,215.91 L118.75,215.90 L119.00,215.81 L119.25,215.80 L119.50,215.65 L119.75,215.65 L120.00,215.50 L120.25,215.30 L120.50,215.17 L120.75,215.22 L121.00,215.08 L121.25,215.03 L121.50,214.89 L121.75,214.98 L122.00,214.93 L122.25,214.92 L122.50,214.70 L122.75,214.47 L123.00,214.39 L123.25,214.35 L123.50,214.14 L123.75,213.97 L124.00,213.84 L124.25,213.74 L124.50,213.76 L124.75,213.59 L125.00,213.37 L125.25,213.43 L125.50,213.43 L125.75,213.39 L126.00,213.47 L126.25,213.47 L126.50,213.60 L126.75,213.81 L127.00,213.73 L127.25,213.90 L127.50,213.87 L127.75,213.84 L128.00,214.02 L128.25,214.12 L128.50,214.32 L128.75,214.54 L129.00,214.73 L129.25,214.89 L129.50,215.22 L129.75,215.31 L130.00,215.55 L130.25,215.51 L130.50,215.49 L130.75,215.46 L131.00,215.67 L131.25,215.61 L131.50,215.61 L131.75,215.37 L132.00,215.37 L132.25,215.60 L132.50,215.55 L132.75,215.42 L133.00,215.23 L133.25,215.24 L133.50,215.29 L133.75,215.31 L134.00,215.11 L134.25,215.01 L134.50,215.14 L134.75,215.29 L135.00,215.37 L135.25,215.42 L135.50,215.40 L135.75,215.41 L136.00,215.59 L136.25,215.54 L136.50,215.45 L136.75,215.34 L137.00,215.24 L137.25,215.20 L137.50,215.24 L137.75,215.15 L138.00,215.09 L138.25,215.18 L138.50,215.15 L138.75,215.19 L139.00,215.15 L139.25,215.14 L139.50,215.11 L139.75,215.19 L140.00,215.22 L140.25,215.37 L140.50,215.29 L140.75,215.31 L141.00,215.29 L141.25,215.30 L141.50,215.30 L141.75,215.25 L142.00,215.20 L142.25,215.40 L142.50,215.44 L142.75,215.48 L143.00,215.38 L143.25,215.28 L143.50,215.19 L143.75,214.86 L144.00,214.37 L144.25,213.91 L144.50,213.06 L144.75,212.13 L145.00,210.54 L145.25,208.74 L145.50,206.64 L145.75,204.24 L146.00,201.32 L146.25,198.20 L146.50,195.17 L146.75,192.60 L147.00,190.18 L147.25,188.39 L147.50,187.14 L147.75,186.57 L148.00,186.89 L148.25,187.69 L148.50,188.91 L148.75,190.74 L149.00,192.84 L149.25,194.92 L149.50,197.27 L149.75,199.63 L150.00,201.85 L150.25,203.86 L150.50,205.55 L150.75,207.03 L151.00,208.51 L151.25,209.85 L151.50,211.00 L151.75,211.85 L152.00,212.70 L152.25,213.24 L152.50,213.71 L152.75,214.11 L153.00,214.29 L153.25,214.49 L153.50,214.73 L153.75,214.82 L154.00,215.01 L154.25,215.04 L154.50,214.93 L154.75,214.98 L155.00,215.02 L155.25,215.06 L155.50,215.16 L155.75,215.11 L156.00,215.09 L156.25,215.21 L156.50,215.22 L156.75,215.11 L157.00,215.02 L157.25,214.85 L157.50,214.88 L157.75,215.00 L158.00,214.95 L158.25,214.87 L158.50,215.00 L158.75,215.01 L159.00,215.09 L159.25,215.01 L159.50,214.86 L159.75,214.69 L160.00,214.49 L160.25,214.11 L160.50,213.71 L160.75,213.10 L161.00,212.32 L161.25,211.35 L161.50,210.11 L161.75,208.64 L162.00,206.54 L162.25,204.08 L162.50,201.33 L162.75,198.26 L163.00,194.70 L163.25,190.98 L163.50,187.20 L163.75,183.39 L164.00,179.61 L164.25,176.18 L164.50,173.33 L164.75,171.01 L165.00,169.54 L165.25,168.71 L165.50,168.85 L165.75,169.76 L166.00,171.04 L166.25,172.78 L166.50,175.13 L166.75,177.70 L167.00,180.59 L167.25,183.52 L167.50,186.49 L167.75,189.49 L168.00,192.57 L168.25,195.44 L168.50,198.18 L168.75,200.64 L169.00,203.02 L169.25,205.17 L169.50,207.09 L169.75,208.46 L170.00,209.61 L170.25,210.57 L170.50,211.50 L170.75,212.32 L171.00,212.85 L171.25,213.21 L171.50,213.52 L171.75,213.96 L172.00,214.36 L172.25,214.42 L172.50,214.52 L172.75,214.67 L173.00,214.71 L173.25,214.86 L173.50,214.91 L173.75,214.85 L174.00,214.91 L174.25,214.80 L174.50,214.70 L174.75,214.57 L175.00,214.42 L175.25,214.21 L175.50,213.91 L175.75,213.71 L176.00,213.39 L176.25,213.04 L176.50,212.86 L176.75,212.59 L177.00,212.46 L177.25,212.37 L177.50,212.29 L177.75,212.38 L178.00,212.45 L178.25,212.58 L178.50,212.74 L178.75,212.81 L179.00,212.99 L179.25,213.14 L179.50,213.26 L179.75,213.57 L180.00,213.76 L180.25,213.93 L180.50,214.04 L180.75,214.22 L181.00,214.40 L181.25,214.63 L181.50,214.71 L181.75,214.66 L182.00,214.80 L182.25,214.92 L182.50,214.92 L182.75,214.86 L183.00,214.84 L183.25,214.64 L183.50,214.71 L183.75,214.62 L184.00,214.55 L184.25,214.61 L184.50,214.59 L184.75,214.55 L185.00,214.74 L185.25,214.81 L185.50,214.80 L185.75,214.85 L186.00,214.84 L186.25,214.91 L186.50,214.91 L186.75,214.80 L187.00,214.66 L187.25,214.70 L187.50,214.68 L187.75,214.79 L188.00,214.84 L188.25,214.86 L188.50,214.98 L188.75,215.00 L189.00,215.12 L189.25,215.10 L189.50,214.93 L189.75,214.70 L190.00,214.68 L190.25,214.59 L190.50,214.53 L190.75,214.33 L191.00,214.42 L191.25,214.49 L191.50,214.71 L191.75,214.67 L192.00,214.65 L192.25,214.65 L192.50,214.68 L192.75,214.55 L193.00,214.45 L193.25,214.43 L193.50,214.38 L193.75,214.36 L194.00,214.46 L194.25,214.56 L194.50,214.61 L194.75,214.66 L195.00,214.56 L195.25,214.72 L195.50,214.81 L195.75,214.66 L196.00,214.50 L196.25,214.52 L196.50,214.55 L196.75,214.61 L197.00,214.55 L197.25,214.55 L197.50,214.69 L197.75,214.85 L198.00,214.85 L198.25,214.80 L198.50,214.87 L198.75,214.83 L199.00,214.90 L199.25,214.89 L199.50,214.80 L199.75,214.82 L200.00,214.83 L200.25,214.70 L200.50,214.62 L200.75,214.60 L201.00,214.62 L201.25,214.73 L201.50,214.81 L201.75,214.74 L202.00,214.72 L202.25,214.68 L202.50,214.53 L202.75,214.54 L203.00,214.42 L203.25,214.33 L203.50,214.30 L203.75,214.50 L204.00,214.55 L204.25,214.63 L204.50,214.55 L204.75,214.47 L205.00,214.47 L205.25,214.47 L205.50,214.23 L205.75,214.36 L206.00,214.19 L206.25,214.31 L206.50,214.48 L206.75,214.37 L207.00,214.50 L207.25,214.55 L207.50,214.43 L207.75,214.61 L208.00,214.40 L208.25,214.18 L208.50,214.19 L208.75,213.98 L209.00,213.90 L209.25,213.75 L209.50,213.51 L209.75,213.45 L210.00,213.24 L210.25,212.86 L210.50,212.37 L210.75,211.66 L211.00,210.86 L211.25,209.75 L211.50,208.49 L211.75,207.07 L212.00,205.67 L212.25,204.31 L212.50,202.98 L212.75,201.61 L213.00,200.53 L213.25,199.60 L213.50,198.92 L213.75,198.46 L214.00,198.43 L214.25,198.58 L214.50,199.08 L214.75,199.78 L215.00,200.68 L215.25,201.82 L215.50,202.97 L215.75,204.06 L216.00,205.30 L216.25,206.53 L216.50,207.65 L216.75,208.71 L217.00,209.69 L217.25,210.66 L217.50,211.47 L217.75,212.21 L218.00,212.59 L218.25,212.95 L218.50,213.22 L218.75,213.52 L219.00,213.62 L219.25,213.68 L219.50,213.68 L219.75,213.91 L220.00,214.02 L220.25,214.25 L220.50,214.15 L220.75,214.15 L221.00,214.33 L221.25,214.27 L221.50,214.13 L221.75,214.07 L222.00,213.87 L222.25,213.83 L222.50,213.84 L222.75,213.65 L223.00,213.70 L223.25,213.82 L223.50,213.88 L223.75,213.98 L224.00,214.05 L224.25,214.11 L224.50,214.17 L224.75,214.13 L225.00,213.97 L225.25,213.83 L225.50,213.79 L225.75,213.82 L226.00,213.78 L226.25,213.84 L226.50,213.73 L226.75,213.75 L227.00,213.88 L227.25,213.93 L227.50,213.96 L227.75,213.94 L228.00,213.79 L228.25,213.99 L228.50,213.97 L228.75,214.04 L229.00,213.92 L229.25,213.95 L229.50,213.97 L229.75,214.23 L230.00,214.10 L230.25,214.19 L230.50,214.16 L230.75,214.32 L231.00,214.24 L231.25,214.21 L231.50,214.14 L231.75,214.14 L232.00,214.14 L232.25,214.14 L232.50,214.05 L232.75,214.20 L233.00,214.15 L233.25,213.98 L233.50,214.02 L233.75,214.09 L234.00,214.08 L234.25,214.05 L234.50,213.94 L234.75,213.96 L235.00,214.08 L235.25,214.00 L235.50,213.83 L235.75,213.79 L236.00,213.82 L236.25,213.95 L236.50,213.96 L236.75,213.87 L237.00,213.99 L237.25,213.99 L237.50,213.99 L237.75,214.01 L238.00,213.75 L238.25,213.71 L238.50,213.87 L238.75,213.85 L239.00,214.00 L239.25,213.97 L239.50,213.87 L239.75,213.95 L240.00,213.97 L240.25,213.76 L240.50,213.73 L240.75,213.72 L241.00,213.77 L241.25,213.72 L241.50,213.57 L241.75,213.59 L242.00,213.61 L242.25,213.64 L242.50,213.59 L242.75,213.45 L243.00,213.54 L243.25,213.63 L243.50,213.61 L243.75,213.55 L244.00,213.47 L244.25,213.43 L244.50,213.50 L244.75,213.48 L245.00,213.37 L245.25,213.13 L245.50,213.11 L245.75,212.67 L246.00,212.05 L246.25,210.90 L246.50,209.01 L246.75,206.27 L247.00,202.41 L247.25,196.99 L247.50,190.28 L247.75,182.64 L248.00,174.53 L248.25,166.81 L248.50,160.30 L248.75,156.06 L249.00,154.51 L249.25,154.62 L249.50,154.39 L249.75,154.30 L250.00,154.24 L250.25,154.24 L250.50,154.03 L250.75,154.03 L251.00,154.08 L251.25,154.24 L251.50,154.30 L251.75,154.23 L252.00,154.30 L252.25,154.45 L252.50,154.44 L252.75,157.60 L253.00,163.56 L253.25,171.35 L253.50,179.51 L253.75,186.71 L254.00,192.40 L254.25,196.51 L254.50,199.38 L254.75,201.41 L255.00,202.75 L255.25,203.68 L255.50,204.42 L255.75,205.16 L256.00,205.84 L256.25,206.21 L256.50,206.55 L256.75,206.90 L257.00,207.31 L257.25,207.83 L257.50,208.12 L257.75,208.31 L258.00,208.72 L258.25,209.09 L258.50,209.30 L258.75,209.62 L259.00,209.75 L259.25,210.00 L259.50,210.35 L259.75,210.50 L260.00,210.77 L260.25,211.18 L260.50,211.24 L260.75,211.35 L261.00,211.50 L261.25,211.64 L261.50,211.79 L261.75,211.73 L262.00,211.74 L262.25,211.86 L262.50,212.03 L262.75,211.98 L263.00,212.00 L263.25,212.05 L263.50,212.07 L263.75,211.98 L264.00,211.99 L264.25,212.02 L264.50,212.19 L264.75,212.20 L265.00,212.24 L265.25,212.33 L265.50,212.46 L265.75,212.54 L266.00,212.43 L266.25,212.54 L266.50,212.71 L266.75,212.82 L267.00,212.95 L267.25,212.84 L267.50,212.74 L267.75,212.81 L268.00,212.74 L268.25,212.57 L268.50,212.43 L268.75,212.48 L269.00,212.57 L269.25,212.54 L269.50,212.61 L269.75,212.66 L270.00,212.80 L270.25,212.76 L270.50,212.64 L270.75,212.61 L271.00,212.70 L271.25,212.66 L271.50,212.61 L271.75,212.63 L272.00,212.82 L272.25,212.72 L272.50,212.83 L272.75,212.83 L273.00,212.76 L273.25,212.66 L273.50,212.60 L273.75,212.57 L274.00,212.63 L274.25,212.45 L274.50,212.48 L274.75,212.53 L275.00,212.63 L275.25,212.55 L275.50,212.62 L275.75,212.70 L276.00,212.68 L276.25,212.67 L276.50,212.65 L276.75,212.76 L277.00,212.88 L277.25,212.77 L277.50,212.69 L277.75,212.71 L278.00,212.77 L278.25,212.80 L278.50,212.72 L278.75,212.67 L279.00,212.61 L279.25,212.56 L279.50,212.57 L279.75,212.60 L280.00,212.55 L280.25,212.46 L280.50,212.49 L280.75,212.41 L281.00,212.47 L281.25,212.54 L281.50,212.40 L281.75,212.34 L282.00,212.37 L282.25,212.19 L282.50,212.22 L282.75,212.19 L283.00,212.08 L283.25,212.07 L283.50,212.16 L283.75,212.09 L284.00,212.05 L284.25,211.99 L284.50,211.89 L284.75,211.81 L285.00,211.84 L285.25,211.67 L285.50,211.49 L285.75,211.57 L286.00,211.58 L286.25,211.54 L286.50,211.52 L286.75,211.40 L287.00,211.37 L287.25,211.45 L287.50,211.29 L287.75,211.12 L288.00,210.98 L288.25,210.96 L288.50,210.83 L288.75,210.90 L289.00,210.87 L289.25,210.89 L289.50,210.85 L289.75,210.92 L290.00,210.87 L290.25,210.86 L290.50,210.67 L290.75,210.57 L291.00,210.67 L291.25,210.80 L291.50,210.80 L291.75,210.87 L292.00,211.01 L292.25,211.21 L292.50,211.39 L292.75,211.49 L293.00,211.51 L293.25,211.58 L293.50,211.70 L293.75,211.65 L294.00,211.66 L294.25,211.70 L294.50,211.54 L294.75,211.49 L295.00,211.36 L295.25,211.17 L295.50,211.00 L295.75,210.66 L296.00,210.11 L296.25,209.56 L296.50,208.93 L296.75,208.15 L297.00,207.05 L297.25,205.79 L297.50,204.45 L297.75,202.88 L298.00,201.14 L298.25,199.19 L298.50,197.24 L298.75,195.41 L299.00,193.64 L299.25,191.87 L299.50,190.44 L299.75,189.22 L300.00,188.38 L300.25,187.73 L300.50,187.66 L300.75,187.93 L301.00,188.45 L301.25,189.25 L301.50,190.44 L301.75,191.86 L302.00,193.45 L302.25,194.97 L302.50,196.57 L302.75,198.21 L303.00,200.00 L303.25,201.45 L303.50,202.86 L303.75,204.11 L304.00,205.41 L304.25,206.69 L304.50,207.70 L304.75,208.41 L305.00,209.15 L305.25,209.70 L305.50,210.34 L305.75,210.79 L306.00,210.96 L306.25,211.20 L306.50,211.42 L306.75,211.57 L307.00,211.69 L307.25,211.86 L307.50,211.85 L307.75,211.92 L308.00,211.93 L308.25,211.79 L308.50,211.80 L308.75,211.75 L309.00,211.75 L309.25,211.61 L309.50,211.58 L309.75,211.52 L310.00,211.69 L310.25,211.68 L310.50,211.65 L310.75,211.51 L311.00,211.56 L311.25,211.57 L311.50,211.64 L311.75,211.54 L312.00,211.54 L312.25,211.58 L312.50,211.61 L312.75,211.64 L313.00,211.53 L313.25,211.38 L313.50,211.41 L313.75,211.43 L314.00,211.42 L314.25,211.31 L314.50,211.26 L314.75,211.23 L315.00,211.32 L315.25,211.35 L315.50,211.42 L315.75,211.36 L316.00,211.39 L316.25,211.44 L316.50,211.48 L316.75,211.53 L317.00,211.39 L317.25,211.19 L317.50,211.16 L317.75,211.20 L318.00,211.05 L318.25,211.01 L318.50,210.83 L318.75,210.99 L319.00,210.99 L319.25,210.97 L319.50,210.95 L319.75,210.97 L320.00,211.01 L320.25,211.00 L320.50,210.90 L320.75,210.95 L321.00,211.10 L321.25,210.93 L321.50,211.04 L321.75,211.11 L322.00,211.25 L322.25,211.22 L322.50,211.21 L322.75,211.09 L323.00,211.12 L323.25,210.99 L323.50,211.00 L323.75,210.92 L324.00,210.93 L324.25,210.87 L324.50,210.88 L324.75,210.89 L325.00,210.93 L325.25,210.70 L325.50,210.77 L325.75,210.67 L326.00,210.65 L326.25,210.69 L326.50,210.86 L326.75,210.90 L327.00,210.99 L327.25,210.81 L327.50,210.97 L327.75,211.04 L328.00,211.07 L328.25,210.92 L328.50,210.86 L328.75,210.87 L329.00,210.92 L329.25,210.79 L329.50,210.67 L329.75,210.59 L330.00,210.67 L330.25,210.67 L330.50,210.67 L330.75,210.62 L331.00,210.66 L331.25,210.78 L331.50,210.79 L331.75,210.79 L332.00,210.91 L332.25,210.89 L332.50,210.93 L332.75,210.88 L333.00,210.89 L333.25,210.78 L333.50,210.67 L333.75,210.51 L334.00,210.47 L334.25,210.50 L334.50,210.47 L334.75,210.37 L335.00,210.49 L335.25,210.55 L335.50,210.60 L335.75,210.59 L336.00,210.73 L336.25,210.71 L336.50,210.72 L336.75,210.62 L337.00,210.52 L337.25,210.53 L337.50,210.49 L337.75,210.32 L338.00,210.32 L338.25,210.16 L338.50,210.10 L338.75,209.98 L339.00,209.81 L339.25,209.76 L339.50,209.64 L339.75,209.61 L340.00,209.63 L340.25,209.51 L340.50,209.39 L340.75,209.26 L341.00,209.11 L341.25,209.07 L341.50,208.96 L341.75,208.86 L342.00,208.80 L342.25,208.93 L342.50,208.89 L342.75,208.98 L343.00,208.92 L343.25,208.92 L343.50,208.93 L343.75,208.95 L344.00,208.87 L344.25,209.05 L344.50,209.06 L344.75,209.00 L345.00,209.04 L345.25,209.13 L345.50,209.25 L345.75,209.42 L346.00,209.32 L346.25,209.29 L346.50,209.54 L346.75,209.55 L347.00,209.51 L347.25,209.53 L347.50,209.52 L347.75,209.60 L348.00,209.67 L348.25,209.73 L348.50,209.83 L348.75,209.86 L349.00,209.93 L349.25,209.94 L349.50,210.05 L349.75,209.98 L350.00,209.98 L350.25,209.91 L350.50,210.04 L350.75,210.02 L351.00,210.09 L351.25,210.09 L351.50,210.22 L351.75,210.12 L352.00,210.24 L352.25,210.20 L352.50,210.23 L352.75,210.14 L353.00,210.11 L353.25,210.10 L353.50,210.12 L353.75,209.95 L354.00,209.94 L354.25,209.97 L354.50,210.10 L354.75,210.13 L355.00,210.05 L355.25,210.08 L355.50,210.10 L355.75,209.89 L356.00,209.70 L356.25,209.45 L356.50,209.22 L356.75,209.09 L357.00,208.92 L357.25,208.78 L357.50,209.00 L357.75,208.94 L358.00,208.92 L358.25,209.11 L358.50,209.16 L358.75,209.08 L359.00,209.34 L359.25,209.29 L359.50,209.28 L359.75,209.30 L360.00,209.23 L360.25,209.30 L360.50,209.39 L360.75,209.10 L361.00,209.05 L361.25,209.14 L361.50,209.08 L361.75,209.00 L362.00,208.79 L362.25,208.81 L362.50,208.83 L362.75,208.83 L363.00,208.89 L363.25,209.01 L363.50,209.18 L363.75,209.36 L364.00,209.45 L364.25,209.63 L364.50,209.79 L364.75,209.66 L365.00,209.63 L365.25,209.59 L365.50,209.64 L365.75,209.55 L366.00,209.43 L366.25,209.32 L366.50,209.55 L366.75,209.47 L367.00,209.40 L367.25,209.29 L367.50,209.41 L367.75,209.38 L368.00,209.29 L368.25,209.07 L368.50,209.25 L368.75,209.25 L369.00,209.23 L369.25,209.19 L369.50,209.19 L369.75,209.28 L370.00,209.44 L370.25,209.29 L370.50,209.19 L370.75,209.24 L371.00,209.17 L371.25,209.14 L371.50,209.25 L371.75,209.14 L372.00,209.08 L372.25,209.11 L372.50,209.07 L372.75,209.10 L373.00,209.13 L373.25,209.07 L373.50,209.02 L373.75,209.11 L374.00,209.16 L374.25,209.22 L374.50,209.19 L374.75,209.19 L375.00,209.06 L375.25,209.01 L375.50,209.17 L375.75,209.12 L376.00,209.03 L376.25,209.10 L376.50,209.11 L376.75,208.99 L377.00,209.09 L377.25,208.86 L377.50,208.84 L377.75,208.97 L378.00,208.87 L378.25,208.93 L378.50,209.05 L378.75,208.88 L379.00,208.81 L379.25,208.70 L379.50,208.53 L379.75,208.36 L380.00,208.03 L380.25,207.85 L380.50,207.74 L380.75,207.67 L381.00,207.60 L381.25,207.59 L381.50,207.53 L381.75,207.72 L382.00,207.88 L382.25,208.07 L382.50,208.24 L382.75,208.28 L383.00,208.34 L383.25,208.56 L383.50,208.59 L383.75,208.61 L384.00,208.54 L384.25,208.44 L384.50,208.60 L384.75,208.50 L385.00,208.46 L385.25,208.43 L385.50,208.34 L385.75,208.42 L386.00,208.50 L386.25,208.45 L386.50,208.63 L386.75,208.75 L387.00,208.83 L387.25,208.96 L387.50,209.00 L387.75,209.05 L388.00,208.98 L388.25,208.89 L388.50,208.74 L388.75,208.64 L389.00,208.63 L389.25,208.59 L389.50,208.63 L389.75,208.78 L390.00,208.72 L390.25,208.73 L390.50,208.69 L390.75,208.50 L391.00,208.50 L391.25,208.33 L391.50,208.28 L391.75,208.28 L392.00,208.17 L392.25,208.21 L392.50,208.32 L392.75,208.22 L393.00,208.10 L393.25,207.92 L393.50,207.92 L393.75,207.97 L394.00,207.92 L394.25,207.93 L394.50,208.01 L394.75,208.16 L395.00,208.27 L395.25,208.25 L395.50,208.36 L395.75,208.33 L396.00,208.35 L396.25,208.25 L396.50,208.21 L396.75,208.25 L397.00,208.15 L397.25,208.08 L397.50,208.17 L397.75,208.22 L398.00,208.28 L398.25,208.33 L398.50,208.33 L398.75,208.54 L399.00,208.59 L399.25,208.61 L399.50,208.56 L399.75,208.61 L400.00,208.59 L400.25,208.69 L400.50,208.48 L400.75,208.47 L401.00,208.40 L401.25,208.43 L401.50,208.29 L401.75,208.32 L402.00,208.17 L402.25,208.35 L402.50,208.28 L402.75,208.23 L403.00,208.18 L403.25,208.13 L403.50,208.18 L403.75,208.07 L404.00,207.98 L404.25,208.11 L404.50,208.15 L404.75,208.06 L405.00,208.18 L405.25,208.11 L405.50,208.19 L405.75,208.16 L406.00,208.11 L406.25,207.96 L406.50,207.96 L406.75,207.83 L407.00,207.84 L407.25,207.82 L407.50,207.80 L407.75,207.69 L408.00,207.81" fill="none" stroke="#4d4d4d" stroke-width="0.75"/><path d="M65.90,214.24V216.84M75.90,214.44V217.04M70.50,212.72V215.32M75.30,214.32V216.92M78.70,214.95V217.55M83.50,214.53V217.13M96.50,213.02V215.62M106.50,214.43V217.03M122.80,213.17V215.77M132.80,214.12V216.72M143.20,213.98V216.58M153.20,213.19V215.79M161.30,210.05V212.65M171.30,211.91V214.51M175.20,212.91V215.51M185.20,213.51V216.11M193.70,213.06V215.66M198.50,213.57V216.17M210.40,211.07V213.67M220.40,212.85V215.45M229.50,212.67V215.27M234.30,212.75V215.35M247.80,181.34V183.94M257.80,207.01V209.61M276.30,211.37V213.97M281.10,211.17V213.77M282.50,210.92V213.52M292.50,210.09V212.69M290.80,209.27V211.87M295.60,209.70V212.30M296.30,208.26V210.86M306.30,209.90V212.50M340.30,208.21V210.81M345.10,207.74V210.34M355.10,208.75V211.35M359.90,207.93V210.53M359.10,208.04V210.64M363.90,208.15V210.75M377.30,207.56V210.16M382.10,206.58V209.18M389.60,207.33V209.93M394.40,206.71V209.31" fill="none" stroke="#333" stroke-width="0.6"/><text class="pl plb" transform="translate(73.60,210.20) rotate(-90)">theanine 1.918</text><text class="pl plb" transform="translate(75.90,210.20) rotate(-90)">Unknown 1.985</text><text class="pl" transform="translate(84.10,211.60) rotate(-90)">Unknown 2.365</text><text class="pl" transform="translate(104.20,208.40) rotate(-90)">theobromine 3.112</text><text class="pl" transform="translate(130.50,208.90) rotate(-90)">GC 4.115</text><text class="pl" transform="translate(150.90,182.90) rotate(-90)">caffeine 4.942</text><text class="pl" transform="translate(169.00,164.50) rotate(-90)">EGC 5.535</text><text class="pl" transform="translate(182.90,208.30) rotate(-90)">catechin 6.138</text><text class="pl" transform="translate(199.10,208.60) rotate(-90)">Unknown 6.793</text><text class="pl" transform="translate(218.10,194.60) rotate(-90)">EC 7.515</text><text class="pl" transform="translate(234.90,209.80) rotate(-90)">Unknown 8.175</text><text class="pl" transform="translate(255.50,150.10) rotate(-90)">EGCg 8.877</text><text class="pl plm" transform="translate(281.70,209.30) rotate(-90)">Unknown 9.960</text><text class="pl" transform="translate(290.20,206.80) rotate(-90)">GCg 10.388</text><text class="pl" transform="translate(296.20,207.50) rotate(-90)">Unknown 10.540</text><text class="pl" transform="translate(304.00,183.50) rotate(-90)">ECg 10.840</text><text class="pl" transform="translate(345.70,204.20) rotate(-90)">Unknown 12.462</text><text class="pl" transform="translate(360.50,205.00) rotate(-90)">Unknown 13.027</text><text class="pl" transform="translate(364.50,205.00) rotate(-90)">Unknown 13.193</text><text class="pl" transform="translate(382.70,203.80) rotate(-90)">Unknown 13.907</text><text class="pl" transform="translate(395.00,203.80) rotate(-90)">Unknown 14.340</text><text class="num" x="70.20" y="175.20">1</text><text class="num" x="102.70" y="168.00">2</text><text class="num" x="127.30" y="188.30">4</text><text class="num" x="150.45" y="151.60">5</text><text class="num" x="167.60" y="138.70">6</text><text class="num" x="179.80" y="174.20">7</text><text class="num" x="216.00" y="172.90">8</text><text class="num" x="253.70" y="123.40">9</text><text class="num" x="287.30" y="179.80">10</text><text class="num" x="302.50" y="158.80">11</text><text class="ttl" x="360.90" y="144.60" textLength="43.5" lengthAdjust="spacingAndGlyphs">Woojeon</text></g>
<g><line x1="19.05" y1="230.60" x2="19.05" y2="324.30" stroke="#9a9a9a" stroke-width="1.6"/><line x1="18.25" y1="324.30" x2="407.8" y2="324.30" stroke="#9a9a9a" stroke-width="1.6"/><line x1="17.4" y1="324.30" x2="19.05" y2="324.30" stroke="#555" stroke-width="0.6"/><text x="17.2" y="326.00" class="yt" textLength="13.7" lengthAdjust="spacingAndGlyphs">0.0E+00</text><line x1="17.4" y1="311.77" x2="19.05" y2="311.77" stroke="#555" stroke-width="0.6"/><text x="17.2" y="313.47" class="yt" textLength="13.7" lengthAdjust="spacingAndGlyphs">2.0E+05</text><line x1="17.4" y1="299.24" x2="19.05" y2="299.24" stroke="#555" stroke-width="0.6"/><text x="17.2" y="300.94" class="yt" textLength="13.7" lengthAdjust="spacingAndGlyphs">4.0E+05</text><line x1="17.4" y1="286.71" x2="19.05" y2="286.71" stroke="#555" stroke-width="0.6"/><text x="17.2" y="288.41" class="yt" textLength="13.7" lengthAdjust="spacingAndGlyphs">6.0E+05</text><line x1="17.4" y1="274.18" x2="19.05" y2="274.18" stroke="#555" stroke-width="0.6"/><text x="17.2" y="275.88" class="yt" textLength="13.7" lengthAdjust="spacingAndGlyphs">8.0E+05</text><line x1="17.4" y1="261.65" x2="19.05" y2="261.65" stroke="#555" stroke-width="0.6"/><text x="17.2" y="263.35" class="yt" textLength="13.7" lengthAdjust="spacingAndGlyphs">1.0E+06</text><line x1="17.4" y1="249.12" x2="19.05" y2="249.12" stroke="#555" stroke-width="0.6"/><text x="17.2" y="250.82" class="yt" textLength="13.7" lengthAdjust="spacingAndGlyphs">1.2E+06</text><line x1="17.4" y1="236.59" x2="19.05" y2="236.59" stroke="#555" stroke-width="0.6"/><text x="17.2" y="238.29" class="yt" textLength="13.7" lengthAdjust="spacingAndGlyphs">1.4E+06</text><text x="20.2" y="229.50" class="uv">UV</text><text x="72.50" y="328.00" class="xt">2.00</text><text x="124.20" y="328.00" class="xt">4.00</text><text x="175.90" y="328.00" class="xt">6.00</text><text x="227.60" y="328.00" class="xt">8.00</text><text x="279.30" y="328.00" class="xt">10.00</text><text x="331.00" y="328.00" class="xt">12.00</text><text x="382.70" y="328.00" class="xt">14.00</text><text x="399.3" y="328.00" class="xt">[min]</text><path d="M20.00,323.87 L20.25,323.91 L20.50,323.94 L20.75,323.85 L21.00,323.84 L21.25,323.91 L21.50,323.82 L21.75,323.81 L22.00,323.80 L22.25,323.76 L22.50,323.91 L22.75,323.94 L23.00,323.96 L23.25,324.07 L23.50,324.22 L23.75,324.30 L24.00,324.35 L24.25,324.31 L24.50,324.30 L24.75,324.27 L25.00,324.27 L25.25,324.20 L25.50,324.09 L25.75,324.04 L26.00,324.08 L26.25,324.08 L26.50,324.19 L26.75,324.15 L27.00,324.26 L27.25,324.35 L27.50,324.33 L27.75,324.41 L28.00,324.34 L28.25,324.21 L28.50,324.20 L28.75,324.06 L29.00,323.95 L29.25,323.95 L29.50,323.85 L29.75,323.92 L30.00,323.97 L30.25,324.01 L30.50,324.04 L30.75,324.11 L31.00,324.11 L31.25,324.19 L31.50,324.22 L31.75,324.24 L32.00,324.30 L32.25,324.19 L32.50,324.28 L32.75,324.36 L33.00,324.28 L33.25,324.13 L33.50,324.19 L33.75,324.01 L34.00,324.16 L34.25,324.03 L34.50,324.06 L34.75,323.99 L35.00,324.14 L35.25,324.04 L35.50,324.08 L35.75,323.94 L36.00,324.06 L36.25,323.94 L36.50,323.92 L36.75,323.89 L37.00,323.86 L37.25,323.91 L37.50,323.92 L37.75,323.78 L38.00,323.87 L38.25,323.94 L38.50,323.92 L38.75,323.95 L39.00,323.97 L39.25,323.94 L39.50,324.06 L39.75,324.25 L40.00,324.24 L40.25,324.24 L40.50,324.21 L40.75,324.17 L41.00,324.29 L41.25,324.17 L41.50,323.92 L41.75,323.93 L42.00,323.95 L42.25,323.86 L42.50,323.82 L42.75,323.86 L43.00,323.76 L43.25,323.77 L43.50,323.77 L43.75,323.82 L44.00,323.91 L44.25,323.98 L44.50,323.98 L44.75,324.18 L45.00,324.25 L45.25,324.16 L45.50,324.12 L45.75,324.21 L46.00,324.13 L46.25,324.07 L46.50,323.95 L46.75,323.86 L47.00,323.93 L47.25,323.91 L47.50,323.83 L47.75,323.93 L48.00,323.90 L48.25,323.87 L48.50,323.92 L48.75,323.93 L49.00,323.93 L49.25,323.97 L49.50,323.96 L49.75,324.01 L50.00,324.13 L50.25,324.17 L50.50,324.24 L50.75,324.21 L51.00,324.16 L51.25,324.18 L51.50,324.28 L51.75,324.24 L52.00,324.15 L52.25,324.11 L52.50,324.15 L52.75,324.19 L53.00,324.09 L53.25,324.01 L53.50,323.96 L53.75,324.03 L54.00,323.94 L54.25,323.91 L54.50,323.89 L54.75,324.01 L55.00,324.00 L55.25,324.07 L55.50,324.01 L55.75,324.05 L56.00,324.09 L56.25,324.05 L56.50,323.92 L56.75,323.89 L57.00,323.90 L57.25,323.96 L57.50,323.92 L57.75,323.86 L58.00,323.93 L58.25,323.96 L58.50,323.98 L58.75,324.00 L59.00,323.91 L59.25,323.91 L59.50,323.98 L59.75,323.92 L60.00,323.91 L60.25,323.92 L60.50,323.89 L60.75,323.92 L61.00,324.06 L61.25,324.00 L61.50,323.97 L61.75,323.96 L62.00,324.00 L62.25,323.98 L62.50,324.06 L62.75,323.93 L63.00,323.92 L63.25,323.95 L63.50,324.01 L63.75,323.97 L64.00,323.94 L64.25,323.95 L64.50,323.95 L64.75,323.95 L65.00,323.98 L65.25,323.81 L65.50,323.77 L65.75,323.70 L66.00,323.75 L66.25,323.90 L66.50,323.86 L66.75,323.79 L67.00,323.90 L67.25,323.86 L67.50,324.00 L67.75,323.82 L68.00,323.62 L68.25,323.51 L68.50,323.29 L68.75,323.05 L69.00,322.80 L69.25,322.53 L69.50,322.35 L69.75,322.17 L70.00,322.14 L70.25,322.15 L70.50,322.32 L70.75,322.40 L71.00,322.63 L71.25,322.77 L71.50,323.04 L71.75,323.14 L72.00,323.37 L72.25,323.44 L72.50,323.61 L72.75,323.66 L73.00,323.83 L73.25,323.93 L73.50,323.97 L73.75,324.03 L74.00,324.09 L74.25,324.14 L74.50,323.99 L74.75,324.03 L75.00,323.91 L75.25,324.00 L75.50,323.93 L75.75,323.99 L76.00,324.01 L76.25,324.08 L76.50,323.90 L76.75,323.82 L77.00,323.85 L77.25,323.87 L77.50,323.78 L77.75,323.83 L78.00,323.96 L78.25,324.00 L78.50,324.08 L78.75,324.04 L79.00,323.97 L79.25,324.02 L79.50,323.92 L79.75,323.84 L80.00,323.88 L80.25,323.87 L80.50,323.85 L80.75,323.90 L81.00,323.83 L81.25,323.75 L81.50,323.77 L81.75,323.71 L82.00,323.71 L82.25,323.73 L82.50,323.71 L82.75,323.77 L83.00,323.81 L83.25,323.84 L83.50,323.92 L83.75,323.93 L84.00,323.87 L84.25,323.86 L84.50,323.77 L84.75,323.84 L85.00,323.85 L85.25,323.79 L85.50,323.79 L85.75,323.89 L86.00,323.88 L86.25,323.92 L86.50,323.96 L86.75,323.89 L87.00,323.99 L87.25,324.05 L87.50,323.98 L87.75,324.12 L88.00,324.12 L88.25,324.15 L88.50,324.13 L88.75,324.10 L89.00,324.04 L89.25,324.14 L89.50,324.08 L89.75,324.03 L90.00,323.93 L90.25,324.07 L90.50,323.98 L90.75,323.94 L91.00,323.87 L91.25,323.78 L91.50,323.88 L91.75,323.91 L92.00,323.74 L92.25,323.71 L92.50,323.68 L92.75,323.71 L93.00,323.86 L93.25,323.75 L93.50,323.79 L93.75,323.81 L94.00,323.89 L94.25,323.84 L94.50,323.65 L94.75,323.43 L95.00,323.34 L95.25,323.14 L95.50,323.02 L95.75,322.79 L96.00,322.70 L96.25,322.58 L96.50,322.49 L96.75,322.25 L97.00,322.11 L97.25,321.90 L97.50,321.74 L97.75,321.71 L98.00,321.75 L98.25,321.59 L98.50,321.66 L98.75,321.62 L99.00,321.68 L99.25,321.73 L99.50,321.73 L99.75,321.64 L100.00,321.73 L100.25,321.70 L100.50,321.83 L100.75,321.77 L101.00,321.76 L101.25,321.80 L101.50,321.85 L101.75,321.85 L102.00,321.85 L102.25,321.77 L102.50,321.79 L102.75,321.88 L103.00,321.93 L103.25,322.03 L103.50,322.10 L103.75,322.29 L104.00,322.37 L104.25,322.52 L104.50,322.63 L104.75,322.66 L105.00,322.76 L105.25,322.93 L105.50,323.05 L105.75,323.24 L106.00,323.48 L106.25,323.62 L106.50,323.81 L106.75,323.94 L107.00,323.98 L107.25,323.96 L107.50,323.97 L107.75,323.83 L108.00,323.76 L108.25,323.66 L108.50,323.62 L108.75,323.71 L109.00,323.71 L109.25,323.67 L109.50,323.70 L109.75,323.73 L110.00,323.72 L110.25,323.70 L110.50,323.57 L110.75,323.65 L111.00,323.79 L111.25,323.85 L111.50,323.79 L111.75,323.95 L112.00,323.87 L112.25,323.94 L112.50,323.91 L112.75,323.78 L113.00,323.74 L113.25,323.88 L113.50,323.77 L113.75,323.80 L114.00,323.72 L114.25,323.73 L114.50,323.65 L114.75,323.55 L115.00,323.36 L115.25,323.44 L115.50,323.45 L115.75,323.60 L116.00,323.53 L116.25,323.58 L116.50,323.75 L116.75,323.96 L117.00,323.88 L117.25,323.85 L117.50,323.79 L117.75,323.82 L118.00,323.98 L118.25,323.95 L118.50,323.84 L118.75,323.83 L119.00,323.75 L119.25,323.73 L119.50,323.79 L119.75,323.56 L120.00,323.46 L120.25,323.32 L120.50,323.14 L120.75,323.00 L121.00,322.64 L121.25,322.19 L121.50,322.03 L121.75,321.70 L122.00,321.29 L122.25,321.04 L122.50,320.71 L122.75,320.50 L123.00,320.32 L123.25,319.90 L123.50,319.64 L123.75,319.58 L124.00,319.37 L124.25,319.39 L124.50,319.36 L124.75,319.23 L125.00,319.29 L125.25,319.39 L125.50,319.35 L125.75,319.38 L126.00,319.23 L126.25,319.15 L126.50,319.24 L126.75,319.32 L127.00,319.35 L127.25,319.49 L127.50,319.56 L127.75,319.72 L128.00,319.91 L128.25,320.12 L128.50,320.37 L128.75,320.61 L129.00,320.92 L129.25,321.29 L129.50,321.78 L129.75,322.16 L130.00,322.38 L130.25,322.66 L130.50,323.00 L130.75,323.17 L131.00,323.23 L131.25,323.17 L131.50,323.25 L131.75,323.42 L132.00,323.41 L132.25,323.41 L132.50,323.41 L132.75,323.53 L133.00,323.69 L133.25,323.71 L133.50,323.69 L133.75,323.73 L134.00,323.74 L134.25,323.69 L134.50,323.57 L134.75,323.50 L135.00,323.49 L135.25,323.44 L135.50,323.41 L135.75,323.38 L136.00,323.36 L136.25,323.51 L136.50,323.53 L136.75,323.54 L137.00,323.62 L137.25,323.61 L137.50,323.54 L137.75,323.53 L138.00,323.44 L138.25,323.39 L138.50,323.42 L138.75,323.37 L139.00,323.41 L139.25,323.44 L139.50,323.46 L139.75,323.48 L140.00,323.50 L140.25,323.47 L140.50,323.46 L140.75,323.40 L141.00,323.44 L141.25,323.52 L141.50,323.48 L141.75,323.55 L142.00,323.53 L142.25,323.57 L142.50,323.47 L142.75,323.35 L143.00,323.22 L143.25,323.13 L143.50,322.83 L143.75,322.49 L144.00,322.06 L144.25,321.46 L144.50,320.54 L144.75,319.41 L145.00,317.80 L145.25,315.82 L145.50,313.62 L145.75,310.99 L146.00,308.29 L146.25,305.63 L146.50,302.99 L146.75,300.93 L147.00,299.32 L147.25,298.19 L147.50,297.75 L147.75,297.99 L148.00,298.79 L148.25,300.02 L148.50,301.61 L148.75,303.29 L149.00,305.17 L149.25,307.18 L149.50,309.11 L149.75,311.05 L150.00,312.91 L150.25,314.40 L150.50,315.95 L150.75,317.21 L151.00,318.38 L151.25,319.48 L151.50,320.35 L151.75,320.91 L152.00,321.53 L152.25,322.02 L152.50,322.51 L152.75,322.81 L153.00,322.96 L153.25,323.03 L153.50,323.16 L153.75,323.16 L154.00,323.15 L154.25,323.16 L154.50,323.15 L154.75,323.28 L155.00,323.36 L155.25,323.40 L155.50,323.48 L155.75,323.47 L156.00,323.51 L156.25,323.41 L156.50,323.26 L156.75,323.20 L157.00,323.20 L157.25,323.30 L157.50,323.34 L157.75,323.31 L158.00,323.25 L158.25,323.27 L158.50,323.28 L158.75,323.22 L159.00,323.11 L159.25,322.93 L159.50,322.81 L159.75,322.76 L160.00,322.57 L160.25,322.17 L160.50,321.87 L160.75,321.14 L161.00,320.41 L161.25,319.25 L161.50,317.88 L161.75,316.02 L162.00,313.85 L162.25,311.07 L162.50,308.03 L162.75,304.47 L163.00,300.58 L163.25,296.43 L163.50,292.25 L163.75,288.08 L164.00,283.99 L164.25,280.31 L164.50,277.12 L164.75,274.70 L165.00,273.12 L165.25,272.32 L165.50,272.32 L165.75,273.17 L166.00,274.59 L166.25,276.63 L166.50,278.98 L166.75,281.75 L167.00,284.90 L167.25,288.26 L167.50,291.65 L167.75,295.01 L168.00,298.34 L168.25,301.64 L168.50,304.63 L168.75,307.39 L169.00,309.93 L169.25,312.22 L169.50,314.19 L169.75,315.84 L170.00,317.25 L170.25,318.44 L170.50,319.40 L170.75,320.23 L171.00,320.84 L171.25,321.43 L171.50,321.83 L171.75,322.14 L172.00,322.42 L172.25,322.69 L172.50,322.79 L172.75,322.74 L173.00,322.72 L173.25,322.77 L173.50,322.76 L173.75,322.78 L174.00,322.72 L174.25,322.76 L174.50,322.89 L174.75,322.83 L175.00,322.74 L175.25,322.66 L175.50,322.53 L175.75,322.35 L176.00,322.18 L176.25,321.89 L176.50,321.68 L176.75,321.45 L177.00,321.16 L177.25,320.86 L177.50,320.74 L177.75,320.54 L178.00,320.46 L178.25,320.45 L178.50,320.60 L178.75,320.72 L179.00,320.89 L179.25,320.97 L179.50,321.16 L179.75,321.41 L180.00,321.57 L180.25,321.60 L180.50,321.79 L180.75,321.96 L181.00,322.18 L181.25,322.27 L181.50,322.40 L181.75,322.47 L182.00,322.73 L182.25,322.79 L182.50,322.87 L182.75,322.89 L183.00,322.90 L183.25,322.88 L183.50,322.93 L183.75,322.85 L184.00,322.76 L184.25,322.71 L184.50,322.65 L184.75,322.76 L185.00,322.71 L185.25,322.67 L185.50,322.65 L185.75,322.75 L186.00,322.88 L186.25,322.88 L186.50,322.89 L186.75,322.92 L187.00,322.97 L187.25,322.98 L187.50,322.95 L187.75,322.85 L188.00,322.95 L188.25,322.89 L188.50,322.90 L188.75,322.88 L189.00,322.92 L189.25,322.95 L189.50,323.01 L189.75,322.98 L190.00,322.97 L190.25,323.00 L190.50,323.00 L190.75,323.01 L191.00,322.97 L191.25,322.93 L191.50,322.92 L191.75,322.91 L192.00,322.80 L192.25,322.85 L192.50,322.85 L192.75,322.82 L193.00,322.85 L193.25,322.76 L193.50,322.82 L193.75,322.94 L194.00,322.82 L194.25,322.68 L194.50,322.70 L194.75,322.63 L195.00,322.70 L195.25,322.67 L195.50,322.65 L195.75,322.63 L196.00,322.63 L196.25,322.65 L196.50,322.66 L196.75,322.60 L197.00,322.51 L197.25,322.50 L197.50,322.58 L197.75,322.59 L198.00,322.45 L198.25,322.45 L198.50,322.42 L198.75,322.57 L199.00,322.51 L199.25,322.58 L199.50,322.65 L199.75,322.83 L200.00,322.85 L200.25,322.90 L200.50,322.79 L200.75,322.82 L201.00,322.76 L201.25,322.55 L201.50,322.49 L201.75,322.44 L202.00,322.34 L202.25,322.30 L202.50,322.27 L202.75,322.23 L203.00,322.26 L203.25,322.33 L203.50,322.42 L203.75,322.51 L204.00,322.67 L204.25,322.74 L204.50,322.69 L204.75,322.81 L205.00,322.73 L205.25,322.64 L205.50,322.70 L205.75,322.57 L206.00,322.56 L206.25,322.67 L206.50,322.66 L206.75,322.66 L207.00,322.72 L207.25,322.68 L207.50,322.64 L207.75,322.53 L208.00,322.43 L208.25,322.40 L208.50,322.43 L208.75,322.42 L209.00,322.40 L209.25,322.36 L209.50,322.27 L209.75,322.11 L210.00,321.90 L210.25,321.59 L210.50,321.18 L210.75,320.64 L211.00,320.03 L211.25,319.27 L211.50,318.48 L211.75,317.35 L212.00,316.30 L212.25,315.15 L212.50,313.91 L212.75,312.65 L213.00,311.43 L213.25,310.08 L213.50,309.18 L213.75,308.19 L214.00,307.58 L214.25,307.25 L214.50,307.32 L214.75,307.49 L215.00,308.14 L215.25,308.88 L215.50,309.72 L215.75,310.72 L216.00,311.82 L216.25,312.92 L216.50,314.25 L216.75,315.45 L217.00,316.48 L217.25,317.49 L217.50,318.35 L217.75,319.15 L218.00,319.74 L218.25,320.30 L218.50,320.60 L218.75,320.95 L219.00,321.37 L219.25,321.58 L219.50,321.71 L219.75,321.91 L220.00,321.93 L220.25,322.02 L220.50,321.98 L220.75,322.01 L221.00,322.21 L221.25,322.13 L221.50,322.13 L221.75,322.17 L222.00,322.20 L222.25,322.29 L222.50,322.18 L222.75,322.10 L223.00,322.22 L223.25,322.27 L223.50,322.16 L223.75,322.19 L224.00,322.10 L224.25,322.08 L224.50,322.07 L224.75,322.06 L225.00,321.95 L225.25,322.02 L225.50,322.01 L225.75,322.02 L226.00,322.04 L226.25,322.00 L226.50,321.99 L226.75,321.99 L227.00,321.98 L227.25,321.95 L227.50,322.05 L227.75,322.00 L228.00,321.98 L228.25,321.95 L228.50,321.98 L228.75,321.98 L229.00,321.98 L229.25,321.96 L229.50,322.02 L229.75,321.94 L230.00,321.93 L230.25,321.88 L230.50,321.85 L230.75,321.85 L231.00,321.70 L231.25,321.76 L231.50,321.79 L231.75,321.75 L232.00,321.77 L232.25,321.85 L232.50,321.90 L232.75,321.91 L233.00,321.92 L233.25,321.94 L233.50,321.96 L233.75,321.96 L234.00,321.99 L234.25,322.03 L234.50,322.12 L234.75,322.10 L235.00,322.11 L235.25,322.13 L235.50,322.12 L235.75,322.09 L236.00,322.07 L236.25,322.01 L236.50,322.00 L236.75,322.04 L237.00,322.15 L237.25,322.12 L237.50,322.11 L237.75,322.07 L238.00,322.08 L238.25,322.02 L238.50,321.92 L238.75,321.88 L239.00,322.06 L239.25,322.04 L239.50,321.99 L239.75,322.06 L240.00,322.02 L240.25,322.02 L240.50,322.01 L240.75,321.81 L241.00,321.76 L241.25,321.77 L241.50,321.66 L241.75,321.80 L242.00,321.75 L242.25,321.63 L242.50,321.77 L242.75,321.77 L243.00,321.74 L243.25,321.86 L243.50,321.79 L243.75,321.89 L244.00,321.94 L244.25,321.85 L244.50,321.95 L244.75,321.87 L245.00,321.75 L245.25,321.76 L245.50,321.66 L245.75,321.53 L246.00,321.55 L246.25,321.37 L246.50,321.31 L246.75,321.03 L247.00,320.46 L247.25,319.64 L247.50,318.12 L247.75,315.65 L248.00,312.08 L248.25,307.13 L248.50,301.08 L248.75,293.81 L249.00,285.70 L249.25,277.82 L249.50,270.72 L249.75,265.53 L250.00,262.84 L250.25,262.51 L250.50,262.47 L250.75,262.50 L251.00,262.47 L251.25,262.58 L251.50,262.59 L251.75,262.70 L252.00,262.79 L252.25,262.80 L252.50,262.81 L252.75,262.85 L253.00,262.62 L253.25,264.05 L253.50,269.04 L253.75,276.23 L254.00,284.34 L254.25,292.05 L254.50,298.45 L254.75,303.40 L255.00,306.66 L255.25,308.84 L255.50,310.19 L255.75,311.16 L256.00,311.79 L256.25,312.49 L256.50,313.16 L256.75,313.82 L257.00,314.38 L257.25,314.93 L257.50,315.46 L257.75,315.98 L258.00,316.22 L258.25,316.48 L258.50,316.82 L258.75,317.07 L259.00,317.36 L259.25,317.61 L259.50,317.87 L259.75,318.31 L260.00,318.42 L260.25,318.60 L260.50,318.82 L260.75,318.95 L261.00,319.06 L261.25,319.29 L261.50,319.20 L261.75,319.39 L262.00,319.48 L262.25,319.44 L262.50,319.62 L262.75,319.70 L263.00,319.71 L263.25,319.97 L263.50,319.96 L263.75,320.13 L264.00,320.35 L264.25,320.34 L264.50,320.42 L264.75,320.52 L265.00,320.40 L265.25,320.54 L265.50,320.56 L265.75,320.67 L266.00,320.68 L266.25,320.78 L266.50,320.73 L266.75,320.81 L267.00,320.88 L267.25,320.93 L267.50,320.95 L267.75,320.96 L268.00,320.94 L268.25,320.88 L268.50,320.93 L268.75,320.89 L269.00,320.75 L269.25,320.68 L269.50,320.69 L269.75,320.62 L270.00,320.73 L270.25,320.69 L270.50,320.74 L270.75,320.66 L271.00,320.66 L271.25,320.63 L271.50,320.85 L271.75,320.87 L272.00,320.95 L272.25,320.93 L272.50,321.06 L272.75,321.12 L273.00,321.18 L273.25,320.97 L273.50,320.89 L273.75,320.85 L274.00,320.79 L274.25,320.80 L274.50,320.70 L274.75,320.73 L275.00,320.71 L275.25,320.64 L275.50,320.62 L275.75,320.61 L276.00,320.65 L276.25,320.71 L276.50,320.51 L276.75,320.57 L277.00,320.66 L277.25,320.73 L277.50,320.79 L277.75,320.74 L278.00,320.64 L278.25,320.80 L278.50,320.65 L278.75,320.73 L279.00,320.62 L279.25,320.72 L279.50,320.69 L279.75,320.68 L280.00,320.65 L280.25,320.84 L280.50,320.75 L280.75,320.70 L281.00,320.55 L281.25,320.45 L281.50,320.58 L281.75,320.45 L282.00,320.32 L282.25,320.43 L282.50,320.35 L282.75,320.36 L283.00,320.35 L283.25,320.34 L283.50,320.42 L283.75,320.51 L284.00,320.29 L284.25,320.35 L284.50,320.31 L284.75,320.28 L285.00,320.04 L285.25,319.97 L285.50,319.76 L285.75,319.79 L286.00,319.78 L286.25,319.68 L286.50,319.59 L286.75,319.56 L287.00,319.39 L287.25,319.37 L287.50,319.26 L287.75,319.07 L288.00,318.97 L288.25,318.92 L288.50,318.88 L288.75,319.03 L289.00,319.02 L289.25,319.09 L289.50,319.16 L289.75,319.15 L290.00,319.27 L290.25,319.26 L290.50,319.22 L290.75,319.25 L291.00,319.25 L291.25,319.25 L291.50,319.40 L291.75,319.49 L292.00,319.59 L292.25,319.64 L292.50,319.66 L292.75,319.66 L293.00,319.83 L293.25,319.84 L293.50,319.77 L293.75,319.84 L294.00,319.86 L294.25,319.90 L294.50,319.98 L294.75,319.92 L295.00,319.86 L295.25,319.87 L295.50,319.78 L295.75,319.71 L296.00,319.59 L296.25,319.32 L296.50,318.95 L296.75,318.45 L297.00,317.81 L297.25,317.02 L297.50,316.04 L297.75,314.92 L298.00,313.83 L298.25,312.44 L298.50,310.98 L298.75,309.37 L299.00,307.68 L299.25,305.87 L299.50,304.22 L299.75,302.47 L300.00,300.99 L300.25,299.88 L300.50,298.98 L300.75,298.40 L301.00,298.23 L301.25,298.23 L301.50,298.58 L301.75,299.18 L302.00,299.98 L302.25,301.11 L302.50,302.42 L302.75,303.85 L303.00,305.37 L303.25,307.03 L303.50,308.64 L303.75,310.16 L304.00,311.48 L304.25,312.67 L304.50,313.88 L304.75,314.98 L305.00,315.79 L305.25,316.64 L305.50,317.15 L305.75,317.65 L306.00,318.14 L306.25,318.53 L306.50,318.82 L306.75,319.03 L307.00,319.28 L307.25,319.47 L307.50,319.68 L307.75,319.79 L308.00,319.78 L308.25,319.82 L308.50,319.83 L308.75,319.68 L309.00,319.64 L309.25,319.55 L309.50,319.45 L309.75,319.44 L310.00,319.40 L310.25,319.36 L310.50,319.42 L310.75,319.51 L311.00,319.48 L311.25,319.51 L311.50,319.51 L311.75,319.57 L312.00,319.54 L312.25,319.49 L312.50,319.50 L312.75,319.57 L313.00,319.59 L313.25,319.58 L313.50,319.45 L313.75,319.52 L314.00,319.44 L314.25,319.42 L314.50,319.35 L314.75,319.36 L315.00,319.31 L315.25,319.37 L315.50,319.37 L315.75,319.46 L316.00,319.47 L316.25,319.52 L316.50,319.59 L316.75,319.59 L317.00,319.46 L317.25,319.49 L317.50,319.43 L317.75,319.44 L318.00,319.44 L318.25,319.38 L318.50,319.41 L318.75,319.45 L319.00,319.50 L319.25,319.60 L319.50,319.52 L319.75,319.48 L320.00,319.34 L320.25,319.35 L320.50,319.40 L320.75,319.22 L321.00,319.28 L321.25,319.38 L321.50,319.21 L321.75,319.35 L322.00,319.32 L322.25,319.28 L322.50,319.39 L322.75,319.24 L323.00,319.20 L323.25,319.29 L323.50,319.20 L323.75,319.16 L324.00,319.19 L324.25,319.23 L324.50,319.24 L324.75,319.22 L325.00,319.24 L325.25,319.36 L325.50,319.44 L325.75,319.37 L326.00,319.23 L326.25,319.19 L326.50,319.19 L326.75,319.24 L327.00,319.03 L327.25,318.92 L327.50,318.96 L327.75,318.87 L328.00,318.88 L328.25,318.80 L328.50,318.80 L328.75,318.81 L329.00,318.85 L329.25,318.80 L329.50,318.94 L329.75,318.99 L330.00,318.97 L330.25,318.92 L330.50,318.91 L330.75,318.95 L331.00,318.96 L331.25,318.84 L331.50,318.72 L331.75,318.76 L332.00,318.67 L332.25,318.71 L332.50,318.61 L332.75,318.56 L333.00,318.55 L333.25,318.60 L333.50,318.57 L333.75,318.58 L334.00,318.57 L334.25,318.59 L334.50,318.53 L334.75,318.55 L335.00,318.49 L335.25,318.59 L335.50,318.66 L335.75,318.61 L336.00,318.66 L336.25,318.71 L336.50,318.68 L336.75,318.67 L337.00,318.47 L337.25,318.37 L337.50,318.38 L337.75,318.22 L338.00,318.16 L338.25,318.15 L338.50,318.05 L338.75,317.99 L339.00,317.94 L339.25,317.90 L339.50,317.90 L339.75,317.78 L340.00,317.61 L340.25,317.44 L340.50,317.40 L340.75,317.32 L341.00,317.30 L341.25,317.13 L341.50,317.03 L341.75,317.01 L342.00,317.10 L342.25,317.21 L342.50,317.14 L342.75,317.06 L343.00,317.06 L343.25,317.09 L343.50,317.05 L343.75,317.06 L344.00,316.91 L344.25,317.08 L344.50,317.03 L344.75,317.18 L345.00,317.36 L345.25,317.52 L345.50,317.64 L345.75,317.76 L346.00,317.79 L346.25,318.00 L346.50,318.07 L346.75,318.07 L347.00,318.09 L347.25,318.04 L347.50,318.02 L347.75,317.98 L348.00,317.85 L348.25,317.98 L348.50,317.99 L348.75,317.96 L349.00,318.08 L349.25,318.16 L349.50,318.18 L349.75,318.35 L350.00,318.24 L350.25,318.20 L350.50,318.27 L350.75,318.11 L351.00,317.96 L351.25,317.97 L351.50,317.94 L351.75,317.90 L352.00,317.96 L352.25,318.01 L352.50,318.11 L352.75,318.25 L353.00,318.26 L353.25,318.14 L353.50,318.07 L353.75,318.00 L354.00,317.92 L354.25,317.86 L354.50,317.80 L354.75,317.73 L355.00,317.79 L355.25,317.95 L355.50,317.85 L355.75,317.77 L356.00,317.71 L356.25,317.60 L356.50,317.51 L356.75,317.36 L357.00,317.02 L357.25,317.00 L357.50,316.91 L357.75,316.93 L358.00,316.96 L358.25,316.98 L358.50,317.04 L358.75,317.19 L359.00,317.33 L359.25,317.39 L359.50,317.45 L359.75,317.50 L360.00,317.56 L360.25,317.52 L360.50,317.42 L360.75,317.28 L361.00,317.25 L361.25,317.09 L361.50,316.91 L361.75,316.75 L362.00,316.67 L362.25,316.76 L362.50,316.81 L362.75,316.83 L363.00,316.93 L363.25,317.05 L363.50,317.18 L363.75,317.32 L364.00,317.32 L364.25,317.41 L364.50,317.46 L364.75,317.48 L365.00,317.61 L365.25,317.68 L365.50,317.76 L365.75,317.85 L366.00,317.82 L366.25,317.81 L366.50,317.79 L366.75,317.70 L367.00,317.70 L367.25,317.52 L367.50,317.38 L367.75,317.43 L368.00,317.45 L368.25,317.49 L368.50,317.49 L368.75,317.38 L369.00,317.48 L369.25,317.68 L369.50,317.45 L369.75,317.36 L370.00,317.28 L370.25,317.32 L370.50,317.34 L370.75,317.28 L371.00,317.16 L371.25,317.24 L371.50,317.27 L371.75,317.23 L372.00,317.17 L372.25,317.09 L372.50,317.22 L372.75,317.10 L373.00,317.13 L373.25,317.15 L373.50,317.17 L373.75,317.18 L374.00,317.20 L374.25,317.06 L374.50,317.07 L374.75,316.97 L375.00,316.86 L375.25,316.78 L375.50,316.71 L375.75,316.74 L376.00,316.76 L376.25,316.81 L376.50,316.98 L376.75,317.04 L377.00,317.22 L377.25,317.26 L377.50,317.26 L377.75,317.28 L378.00,317.29 L378.25,317.17 L378.50,317.12 L378.75,316.90 L379.00,316.76 L379.25,316.60 L379.50,316.48 L379.75,316.32 L380.00,316.27 L380.25,316.21 L380.50,316.14 L380.75,316.10 L381.00,316.10 L381.25,316.08 L381.50,315.98 L381.75,315.94 L382.00,315.89 L382.25,316.01 L382.50,316.04 L382.75,316.18 L383.00,316.33 L383.25,316.45 L383.50,316.55 L383.75,316.68 L384.00,316.69 L384.25,316.75 L384.50,316.72 L384.75,316.74 L385.00,316.86 L385.25,316.85 L385.50,316.83 L385.75,316.85 L386.00,316.86 L386.25,316.92 L386.50,316.84 L386.75,316.75 L387.00,316.79 L387.25,316.84 L387.50,316.81 L387.75,316.74 L388.00,316.67 L388.25,316.65 L388.50,316.75 L388.75,316.69 L389.00,316.69 L389.25,316.71 L389.50,316.74 L389.75,316.70 L390.00,316.59 L390.25,316.55 L390.50,316.56 L390.75,316.37 L391.00,316.25 L391.25,316.26 L391.50,316.19 L391.75,316.24 L392.00,316.11 L392.25,315.96 L392.50,315.94 L392.75,316.02 L393.00,316.04 L393.25,316.03 L393.50,316.03 L393.75,316.01 L394.00,316.15 L394.25,316.30 L394.50,316.46 L394.75,316.39 L395.00,316.40 L395.25,316.41 L395.50,316.53 L395.75,316.61 L396.00,316.66 L396.25,316.55 L396.50,316.51 L396.75,316.53 L397.00,316.59 L397.25,316.54 L397.50,316.39 L397.75,316.28 L398.00,316.30 L398.25,316.42 L398.50,316.40 L398.75,316.32 L399.00,316.36 L399.25,316.25 L399.50,316.25 L399.75,316.21 L400.00,316.13 L400.25,316.13 L400.50,316.17 L400.75,316.04 L401.00,316.11 L401.25,316.11 L401.50,316.04 L401.75,316.05 L402.00,316.10 L402.25,316.04 L402.50,316.16 L402.75,316.22 L403.00,316.18 L403.25,316.28 L403.50,316.32 L403.75,316.35 L404.00,316.34 L404.25,316.34 L404.50,316.22 L404.75,316.16 L405.00,316.12 L405.25,316.09 L405.50,316.04 L405.75,316.07 L406.00,316.00 L406.25,316.01 L406.50,315.96 L406.75,315.82 L407.00,315.89 L407.25,315.88 L407.50,315.83 L407.75,315.82 L408.00,315.88" fill="none" stroke="#4d4d4d" stroke-width="0.75"/><path d="M65.90,322.45V325.05M75.90,322.71V325.31M70.50,321.02V323.62M75.30,322.70V325.30M96.50,321.19V323.79M106.50,322.51V325.11M122.20,319.74V322.34M132.20,322.11V324.71M142.90,321.92V324.52M152.90,321.66V324.26M161.30,317.95V320.55M171.30,320.13V322.73M175.00,321.44V324.04M185.00,321.41V324.01M193.50,321.52V324.12M198.30,321.15V323.75M199.10,321.21V323.81M203.90,321.37V323.97M210.60,319.88V322.48M220.60,320.68V323.28M229.90,320.63V323.23M234.70,320.80V323.40M248.10,310.78V313.38M258.10,314.92V317.52M277.10,319.36V321.96M281.90,319.02V321.62M282.40,319.05V321.65M292.40,318.36V320.96M291.70,318.19V320.79M296.50,317.65V320.25M297.00,316.51V319.11M307.00,317.98V320.58M340.60,316.10V318.70M345.40,316.34V318.94M355.40,316.55V319.15M360.20,316.22V318.82M359.90,316.26V318.86M364.70,316.18V318.78M379.50,315.18V317.78M384.30,315.45V318.05M390.60,315.26V317.86M395.40,315.23V317.83" fill="none" stroke="#333" stroke-width="0.6"/><text class="pl plb" transform="translate(73.60,318.30) rotate(-90)">theanine 1.918</text><text class="pl plb" transform="translate(75.90,318.30) rotate(-90)">Unknown 1.985</text><text class="pl" transform="translate(104.20,317.80) rotate(-90)">theobromine 3.110</text><text class="pl" transform="translate(129.90,315.00) rotate(-90)">GC 4.120</text><text class="pl" transform="translate(150.60,294.00) rotate(-90)">caffeine 4.947</text><text class="pl" transform="translate(169.00,268.00) rotate(-90)">EGC 5.540</text><text class="pl" transform="translate(182.70,316.80) rotate(-90)">catechin 6.152</text><text class="pl" transform="translate(198.90,317.00) rotate(-90)">Unknown 6.837</text><text class="pl" transform="translate(204.50,317.00) rotate(-90)">Unknown 7.008</text><text class="pl" transform="translate(218.30,303.60) rotate(-90)">EC 7.535</text><text class="pl" transform="translate(235.30,317.00) rotate(-90)">Unknown 8.262</text><text class="pl" transform="translate(255.80,258.30) rotate(-90)">EGCg 8.880</text><text class="pl plm" transform="translate(282.50,317.00) rotate(-90)">Unknown 9.960</text><text class="pl" transform="translate(290.10,314.70) rotate(-90)">GCg 10.347</text><text class="pl" transform="translate(297.10,314.80) rotate(-90)">Unknown 10.578</text><text class="pl" transform="translate(304.70,293.70) rotate(-90)">ECg 10.873</text><text class="pl" transform="translate(346.00,313.20) rotate(-90)">Unknown 12.462</text><text class="pl" transform="translate(360.80,313.00) rotate(-90)">Unknown 13.057</text><text class="pl" transform="translate(365.30,313.00) rotate(-90)">Unknown 13.248</text><text class="pl" transform="translate(384.90,311.40) rotate(-90)">Unknown 13.963</text><text class="pl" transform="translate(396.00,312.00) rotate(-90)">Unknown 14.393</text><text class="num" x="68.20" y="286.00">1</text><text class="num" x="102.90" y="278.70">2</text><text class="num" x="127.60" y="294.20">4</text><text class="num" x="150.50" y="263.50">5</text><text class="num" x="166.50" y="242.70">6</text><text class="num" x="181.80" y="285.00">7</text><text class="num" x="215.60" y="281.80">8</text><text class="num" x="255.30" y="232.20">9</text><text class="num" x="288.00" y="289.80">10</text><text class="num" x="302.50" y="268.10">11</text><text class="ttl" x="361.00" y="250.20" textLength="26.4" lengthAdjust="spacingAndGlyphs">Sejak</text></g>
<g><line x1="19.05" y1="339.10" x2="19.05" y2="432.80" stroke="#9a9a9a" stroke-width="1.6"/><line x1="18.25" y1="432.80" x2="407.8" y2="432.80" stroke="#9a9a9a" stroke-width="1.6"/><line x1="17.4" y1="432.80" x2="19.05" y2="432.80" stroke="#555" stroke-width="0.6"/><text x="17.2" y="434.50" class="yt" textLength="13.7" lengthAdjust="spacingAndGlyphs">0.0E+00</text><line x1="17.4" y1="420.27" x2="19.05" y2="420.27" stroke="#555" stroke-width="0.6"/><text x="17.2" y="421.97" class="yt" textLength="13.7" lengthAdjust="spacingAndGlyphs">2.0E+05</text><line x1="17.4" y1="407.74" x2="19.05" y2="407.74" stroke="#555" stroke-width="0.6"/><text x="17.2" y="409.44" class="yt" textLength="13.7" lengthAdjust="spacingAndGlyphs">4.0E+05</text><line x1="17.4" y1="395.21" x2="19.05" y2="395.21" stroke="#555" stroke-width="0.6"/><text x="17.2" y="396.91" class="yt" textLength="13.7" lengthAdjust="spacingAndGlyphs">6.0E+05</text><line x1="17.4" y1="382.68" x2="19.05" y2="382.68" stroke="#555" stroke-width="0.6"/><text x="17.2" y="384.38" class="yt" textLength="13.7" lengthAdjust="spacingAndGlyphs">8.0E+05</text><line x1="17.4" y1="370.15" x2="19.05" y2="370.15" stroke="#555" stroke-width="0.6"/><text x="17.2" y="371.85" class="yt" textLength="13.7" lengthAdjust="spacingAndGlyphs">1.0E+06</text><line x1="17.4" y1="357.62" x2="19.05" y2="357.62" stroke="#555" stroke-width="0.6"/><text x="17.2" y="359.32" class="yt" textLength="13.7" lengthAdjust="spacingAndGlyphs">1.2E+06</text><line x1="17.4" y1="345.09" x2="19.05" y2="345.09" stroke="#555" stroke-width="0.6"/><text x="17.2" y="346.79" class="yt" textLength="13.7" lengthAdjust="spacingAndGlyphs">1.4E+06</text><text x="20.2" y="338.00" class="uv">UV</text><text x="72.50" y="436.50" class="xt">2.00</text><text x="124.20" y="436.50" class="xt">4.00</text><text x="175.90" y="436.50" class="xt">6.00</text><text x="227.60" y="436.50" class="xt">8.00</text><text x="279.30" y="436.50" class="xt">10.00</text><text x="331.00" y="436.50" class="xt">12.00</text><text x="382.70" y="436.50" class="xt">14.00</text><text x="399.3" y="436.50" class="xt">[min]</text><path d="M20.00,432.46 L20.25,432.39 L20.50,432.38 L20.75,432.30 L21.00,432.36 L21.25,432.38 L21.50,432.40 L21.75,432.46 L22.00,432.53 L22.25,432.54 L22.50,432.61 L22.75,432.52 L23.00,432.40 L23.25,432.30 L23.50,432.35 L23.75,432.33 L24.00,432.38 L24.25,432.43 L24.50,432.38 L24.75,432.53 L25.00,432.69 L25.25,432.58 L25.50,432.61 L25.75,432.64 L26.00,432.67 L26.25,432.78 L26.50,432.77 L26.75,432.68 L27.00,432.69 L27.25,432.57 L27.50,432.54 L27.75,432.54 L28.00,432.51 L28.25,432.45 L28.50,432.46 L28.75,432.38 L29.00,432.57 L29.25,432.58 L29.50,432.54 L29.75,432.57 L30.00,432.67 L30.25,432.60 L30.50,432.65 L30.75,432.56 L31.00,432.52 L31.25,432.43 L31.50,432.36 L31.75,432.34 L32.00,432.29 L32.25,432.39 L32.50,432.38 L32.75,432.33 L33.00,432.41 L33.25,432.46 L33.50,432.43 L33.75,432.53 L34.00,432.51 L34.25,432.58 L34.50,432.55 L34.75,432.58 L35.00,432.48 L35.25,432.47 L35.50,432.46 L35.75,432.38 L36.00,432.31 L36.25,432.37 L36.50,432.42 L36.75,432.49 L37.00,432.46 L37.25,432.41 L37.50,432.39 L37.75,432.32 L38.00,432.30 L38.25,432.10 L38.50,432.20 L38.75,432.26 L39.00,432.44 L39.25,432.45 L39.50,432.53 L39.75,432.46 L40.00,432.60 L40.25,432.63 L40.50,432.54 L40.75,432.47 L41.00,432.59 L41.25,432.60 L41.50,432.67 L41.75,432.67 L42.00,432.54 L42.25,432.73 L42.50,432.55 L42.75,432.48 L43.00,432.46 L43.25,432.46 L43.50,432.42 L43.75,432.42 L44.00,432.36 L44.25,432.47 L44.50,432.44 L44.75,432.39 L45.00,432.43 L45.25,432.43 L45.50,432.42 L45.75,432.34 L46.00,432.32 L46.25,432.36 L46.50,432.45 L46.75,432.37 L47.00,432.36 L47.25,432.38 L47.50,432.21 L47.75,432.17 L48.00,432.10 L48.25,432.06 L48.50,432.19 L48.75,432.14 L49.00,432.15 L49.25,432.35 L49.50,432.34 L49.75,432.33 L50.00,432.32 L50.25,432.26 L50.50,432.20 L50.75,432.17 L51.00,432.23 L51.25,432.24 L51.50,432.30 L51.75,432.31 L52.00,432.27 L52.25,432.38 L52.50,432.29 L52.75,432.22 L53.00,432.25 L53.25,432.19 L53.50,432.22 L53.75,432.20 L54.00,432.22 L54.25,432.27 L54.50,432.33 L54.75,432.32 L55.00,432.48 L55.25,432.48 L55.50,432.53 L55.75,432.50 L56.00,432.45 L56.25,432.30 L56.50,432.40 L56.75,432.35 L57.00,432.25 L57.25,432.22 L57.50,432.33 L57.75,432.42 L58.00,432.59 L58.25,432.57 L58.50,432.60 L58.75,432.68 L59.00,432.58 L59.25,432.47 L59.50,432.51 L59.75,432.29 L60.00,432.27 L60.25,432.20 L60.50,432.20 L60.75,432.31 L61.00,432.35 L61.25,432.26 L61.50,432.42 L61.75,432.36 L62.00,432.34 L62.25,432.38 L62.50,432.46 L62.75,432.44 L63.00,432.66 L63.25,432.64 L63.50,432.67 L63.75,432.68 L64.00,432.63 L64.25,432.55 L64.50,432.57 L64.75,432.40 L65.00,432.49 L65.25,432.44 L65.50,432.50 L65.75,432.47 L66.00,432.51 L66.25,432.51 L66.50,432.58 L66.75,432.38 L67.00,432.47 L67.25,432.44 L67.50,432.38 L67.75,432.23 L68.00,432.06 L68.25,431.90 L68.50,431.81 L68.75,431.47 L69.00,431.24 L69.25,431.01 L69.50,430.81 L69.75,430.69 L70.00,430.67 L70.25,430.56 L70.50,430.71 L70.75,430.81 L71.00,431.08 L71.25,431.40 L71.50,431.64 L71.75,431.76 L72.00,432.10 L72.25,432.24 L72.50,432.28 L72.75,432.31 L73.00,432.31 L73.25,432.27 L73.50,432.25 L73.75,432.16 L74.00,432.22 L74.25,432.39 L74.50,432.37 L74.75,432.36 L75.00,432.45 L75.25,432.47 L75.50,432.55 L75.75,432.54 L76.00,432.33 L76.25,432.47 L76.50,432.42 L76.75,432.34 L77.00,432.27 L77.25,432.22 L77.50,432.16 L77.75,432.32 L78.00,432.22 L78.25,432.39 L78.50,432.49 L78.75,432.59 L79.00,432.61 L79.25,432.67 L79.50,432.55 L79.75,432.64 L80.00,432.51 L80.25,432.50 L80.50,432.50 L80.75,432.49 L81.00,432.34 L81.25,432.47 L81.50,432.30 L81.75,432.23 L82.00,432.21 L82.25,432.25 L82.50,432.32 L82.75,432.49 L83.00,432.31 L83.25,432.51 L83.50,432.57 L83.75,432.60 L84.00,432.45 L84.25,432.36 L84.50,432.39 L84.75,432.54 L85.00,432.40 L85.25,432.42 L85.50,432.43 L85.75,432.56 L86.00,432.61 L86.25,432.50 L86.50,432.45 L86.75,432.45 L87.00,432.49 L87.25,432.39 L87.50,432.41 L87.75,432.43 L88.00,432.48 L88.25,432.51 L88.50,432.55 L88.75,432.62 L89.00,432.59 L89.25,432.52 L89.50,432.39 L89.75,432.39 L90.00,432.33 L90.25,432.30 L90.50,432.18 L90.75,432.16 L91.00,432.23 L91.25,432.27 L91.50,432.35 L91.75,432.36 L92.00,432.38 L92.25,432.43 L92.50,432.57 L92.75,432.65 L93.00,432.73 L93.25,432.60 L93.50,432.76 L93.75,432.66 L94.00,432.51 L94.25,432.47 L94.50,432.37 L94.75,432.32 L95.00,432.33 L95.25,432.14 L95.50,431.98 L95.75,432.00 L96.00,431.80 L96.25,431.53 L96.50,431.40 L96.75,431.23 L97.00,431.04 L97.25,431.11 L97.50,430.87 L97.75,430.71 L98.00,430.71 L98.25,430.65 L98.50,430.54 L98.75,430.52 L99.00,430.50 L99.25,430.55 L99.50,430.66 L99.75,430.62 L100.00,430.50 L100.25,430.56 L100.50,430.65 L100.75,430.70 L101.00,430.58 L101.25,430.61 L101.50,430.67 L101.75,430.61 L102.00,430.53 L102.25,430.35 L102.50,430.30 L102.75,430.50 L103.00,430.57 L103.25,430.57 L103.50,430.77 L103.75,430.90 L104.00,431.00 L104.25,431.01 L104.50,431.14 L104.75,431.19 L105.00,431.30 L105.25,431.47 L105.50,431.45 L105.75,431.63 L106.00,431.70 L106.25,431.74 L106.50,431.90 L106.75,431.94 L107.00,431.95 L107.25,432.16 L107.50,432.25 L107.75,432.34 L108.00,432.32 L108.25,432.27 L108.50,432.30 L108.75,432.12 L109.00,432.01 L109.25,432.04 L109.50,431.93 L109.75,431.96 L110.00,432.04 L110.25,432.15 L110.50,432.44 L110.75,432.43 L111.00,432.47 L111.25,432.67 L111.50,432.67 L111.75,432.59 L112.00,432.58 L112.25,432.49 L112.50,432.55 L112.75,432.45 L113.00,432.42 L113.25,432.35 L113.50,432.32 L113.75,432.21 L114.00,432.20 L114.25,432.27 L114.50,432.25 L114.75,432.15 L115.00,432.22 L115.25,432.28 L115.50,432.27 L115.75,432.12 L116.00,432.02 L116.25,431.93 L116.50,431.94 L116.75,431.88 L117.00,431.80 L117.25,431.78 L117.50,431.98 L117.75,431.99 L118.00,432.06 L118.25,432.16 L118.50,432.16 L118.75,432.14 L119.00,432.08 L119.25,431.88 L119.50,431.86 L119.75,431.76 L120.00,431.67 L120.25,431.68 L120.50,431.54 L120.75,431.47 L121.00,431.46 L121.25,431.21 L121.50,431.06 L121.75,430.71 L122.00,430.40 L122.25,430.29 L122.50,430.17 L122.75,429.86 L123.00,429.69 L123.25,429.55 L123.50,429.43 L123.75,429.18 L124.00,429.03 L124.25,428.86 L124.50,428.65 L124.75,428.62 L125.00,428.59 L125.25,428.47 L125.50,428.62 L125.75,428.45 L126.00,428.48 L126.25,428.65 L126.50,428.70 L126.75,428.75 L127.00,428.90 L127.25,428.80 L127.50,428.99 L127.75,428.96 L128.00,429.01 L128.25,429.19 L128.50,429.34 L128.75,429.56 L129.00,429.89 L129.25,430.13 L129.50,430.45 L129.75,430.72 L130.00,431.02 L130.25,431.25 L130.50,431.43 L130.75,431.47 L131.00,431.63 L131.25,431.77 L131.50,431.88 L131.75,431.77 L132.00,431.88 L132.25,431.89 L132.50,432.03 L132.75,432.03 L133.00,432.05 L133.25,432.08 L133.50,432.12 L133.75,432.13 L134.00,432.03 L134.25,432.02 L134.50,432.12 L134.75,432.12 L135.00,432.03 L135.25,432.04 L135.50,431.97 L135.75,432.20 L136.00,432.11 L136.25,432.00 L136.50,432.09 L136.75,432.17 L137.00,432.07 L137.25,432.04 L137.50,431.99 L137.75,432.10 L138.00,432.09 L138.25,431.85 L138.50,431.80 L138.75,431.84 L139.00,431.88 L139.25,431.79 L139.50,431.81 L139.75,431.90 L140.00,432.10 L140.25,432.15 L140.50,432.11 L140.75,432.09 L141.00,432.02 L141.25,431.91 L141.50,431.82 L141.75,431.77 L142.00,431.60 L142.25,431.60 L142.50,431.51 L142.75,431.42 L143.00,431.35 L143.25,431.29 L143.50,431.16 L143.75,431.11 L144.00,430.82 L144.25,430.61 L144.50,430.35 L144.75,429.73 L145.00,428.73 L145.25,427.45 L145.50,425.74 L145.75,423.79 L146.00,421.35 L146.25,418.62 L146.50,415.74 L146.75,412.92 L147.00,410.28 L147.25,408.23 L147.50,406.57 L147.75,405.63 L148.00,405.39 L148.25,405.69 L148.50,406.63 L148.75,408.08 L149.00,409.76 L149.25,411.82 L149.50,414.01 L149.75,416.21 L150.00,418.50 L150.25,420.58 L150.50,422.50 L150.75,424.35 L151.00,425.77 L151.25,427.09 L151.50,428.20 L151.75,429.07 L152.00,429.82 L152.25,430.35 L152.50,430.54 L152.75,430.90 L153.00,431.10 L153.25,431.20 L153.50,431.34 L153.75,431.32 L154.00,431.45 L154.25,431.67 L154.50,431.87 L154.75,431.82 L155.00,431.81 L155.25,431.77 L155.50,431.79 L155.75,431.81 L156.00,431.77 L156.25,431.73 L156.50,431.68 L156.75,431.65 L157.00,431.78 L157.25,431.79 L157.50,431.71 L157.75,431.67 L158.00,431.55 L158.25,431.65 L158.50,431.69 L158.75,431.61 L159.00,431.63 L159.25,431.61 L159.50,431.43 L159.75,431.24 L160.00,430.95 L160.25,430.64 L160.50,429.91 L160.75,429.12 L161.00,428.03 L161.25,426.73 L161.50,424.96 L161.75,422.82 L162.00,420.24 L162.25,417.26 L162.50,413.62 L162.75,409.52 L163.00,404.91 L163.25,400.14 L163.50,395.04 L163.75,389.88 L164.00,384.96 L164.25,380.57 L164.50,376.71 L164.75,373.85 L165.00,371.89 L165.25,371.07 L165.50,371.33 L165.75,372.36 L166.00,373.96 L166.25,376.33 L166.50,379.13 L166.75,382.41 L167.00,386.15 L167.25,389.90 L167.50,393.93 L167.75,397.98 L168.00,401.88 L168.25,405.85 L168.50,409.55 L168.75,412.84 L169.00,415.95 L169.25,418.72 L169.50,421.08 L169.75,423.17 L170.00,424.82 L170.25,426.20 L170.50,427.35 L170.75,428.35 L171.00,429.00 L171.25,429.67 L171.50,430.18 L171.75,430.61 L172.00,430.83 L172.25,431.22 L172.50,431.36 L172.75,431.44 L173.00,431.51 L173.25,431.57 L173.50,431.48 L173.75,431.62 L174.00,431.50 L174.25,431.42 L174.50,431.47 L174.75,431.44 L175.00,431.35 L175.25,431.29 L175.50,431.21 L175.75,431.06 L176.00,430.97 L176.25,430.83 L176.50,430.74 L176.75,430.50 L177.00,430.38 L177.25,430.17 L177.50,430.11 L177.75,429.91 L178.00,429.87 L178.25,429.82 L178.50,429.98 L178.75,430.06 L179.00,430.13 L179.25,430.33 L179.50,430.53 L179.75,430.61 L180.00,430.63 L180.25,430.74 L180.50,430.78 L180.75,430.79 L181.00,430.81 L181.25,430.93 L181.50,430.95 L181.75,431.00 L182.00,431.02 L182.25,431.07 L182.50,431.30 L182.75,431.22 L183.00,431.19 L183.25,431.20 L183.50,431.24 L183.75,431.20 L184.00,431.30 L184.25,431.12 L184.50,431.30 L184.75,431.30 L185.00,431.39 L185.25,431.30 L185.50,431.41 L185.75,431.37 L186.00,431.45 L186.25,431.28 L186.50,431.29 L186.75,431.31 L187.00,431.43 L187.25,431.29 L187.50,431.25 L187.75,431.29 L188.00,431.41 L188.25,431.48 L188.50,431.42 L188.75,431.42 L189.00,431.51 L189.25,431.58 L189.50,431.52 L189.75,431.37 L190.00,431.23 L190.25,431.25 L190.50,431.19 L190.75,431.18 L191.00,431.07 L191.25,431.02 L191.50,431.03 L191.75,430.96 L192.00,430.87 L192.25,430.86 L192.50,430.76 L192.75,430.89 L193.00,430.97 L193.25,431.04 L193.50,431.12 L193.75,431.17 L194.00,431.30 L194.25,431.42 L194.50,431.37 L194.75,431.38 L195.00,431.38 L195.25,431.51 L195.50,431.51 L195.75,431.51 L196.00,431.48 L196.25,431.50 L196.50,431.49 L196.75,431.38 L197.00,431.31 L197.25,431.34 L197.50,431.41 L197.75,431.43 L198.00,431.38 L198.25,431.38 L198.50,431.41 L198.75,431.40 L199.00,431.33 L199.25,431.16 L199.50,431.04 L199.75,431.07 L200.00,431.00 L200.25,431.07 L200.50,431.09 L200.75,431.06 L201.00,431.15 L201.25,431.27 L201.50,431.15 L201.75,431.18 L202.00,431.13 L202.25,431.06 L202.50,431.13 L202.75,430.92 L203.00,430.86 L203.25,430.87 L203.50,430.87 L203.75,430.93 L204.00,430.95 L204.25,430.94 L204.50,430.90 L204.75,430.93 L205.00,430.98 L205.25,431.07 L205.50,430.99 L205.75,430.98 L206.00,430.95 L206.25,431.09 L206.50,431.08 L206.75,431.09 L207.00,430.99 L207.25,430.96 L207.50,430.95 L207.75,430.97 L208.00,431.04 L208.25,430.95 L208.50,430.94 L208.75,430.97 L209.00,430.92 L209.25,430.81 L209.50,430.72 L209.75,430.53 L210.00,430.49 L210.25,430.40 L210.50,430.03 L210.75,429.79 L211.00,429.29 L211.25,428.66 L211.50,427.85 L211.75,426.85 L212.00,425.59 L212.25,424.32 L212.50,422.88 L212.75,421.47 L213.00,419.99 L213.25,418.65 L213.50,417.48 L213.75,416.41 L214.00,415.69 L214.25,415.25 L214.50,415.22 L214.75,415.50 L215.00,415.79 L215.25,416.19 L215.50,416.96 L215.75,417.79 L216.00,418.95 L216.25,419.98 L216.50,421.18 L216.75,422.56 L217.00,423.80 L217.25,424.92 L217.50,426.10 L217.75,426.98 L218.00,427.90 L218.25,428.50 L218.50,428.92 L218.75,429.30 L219.00,429.69 L219.25,429.99 L219.50,430.17 L219.75,430.24 L220.00,430.32 L220.25,430.58 L220.50,430.74 L220.75,430.85 L221.00,430.76 L221.25,430.81 L221.50,430.77 L221.75,430.73 L222.00,430.53 L222.25,430.45 L222.50,430.40 L222.75,430.44 L223.00,430.40 L223.25,430.45 L223.50,430.58 L223.75,430.62 L224.00,430.67 L224.25,430.68 L224.50,430.58 L224.75,430.59 L225.00,430.62 L225.25,430.46 L225.50,430.51 L225.75,430.50 L226.00,430.64 L226.25,430.64 L226.50,430.60 L226.75,430.60 L227.00,430.63 L227.25,430.61 L227.50,430.75 L227.75,430.51 L228.00,430.65 L228.25,430.62 L228.50,430.62 L228.75,430.70 L229.00,430.72 L229.25,430.63 L229.50,430.74 L229.75,430.53 L230.00,430.48 L230.25,430.40 L230.50,430.41 L230.75,430.27 L231.00,430.21 L231.25,430.17 L231.50,430.35 L231.75,430.31 L232.00,430.44 L232.25,430.44 L232.50,430.56 L232.75,430.57 L233.00,430.56 L233.25,430.60 L233.50,430.61 L233.75,430.53 L234.00,430.51 L234.25,430.48 L234.50,430.51 L234.75,430.54 L235.00,430.47 L235.25,430.46 L235.50,430.43 L235.75,430.38 L236.00,430.42 L236.25,430.33 L236.50,430.29 L236.75,430.30 L237.00,430.27 L237.25,430.35 L237.50,430.40 L237.75,430.31 L238.00,430.40 L238.25,430.42 L238.50,430.39 L238.75,430.44 L239.00,430.33 L239.25,430.25 L239.50,430.33 L239.75,430.32 L240.00,430.42 L240.25,430.42 L240.50,430.38 L240.75,430.40 L241.00,430.36 L241.25,430.34 L241.50,430.29 L241.75,430.11 L242.00,430.14 L242.25,430.09 L242.50,430.16 L242.75,430.24 L243.00,430.33 L243.25,430.36 L243.50,430.46 L243.75,430.33 L244.00,430.52 L244.25,430.41 L244.50,430.37 L244.75,430.22 L245.00,430.14 L245.25,430.02 L245.50,430.12 L245.75,429.94 L246.00,429.95 L246.25,429.91 L246.50,429.76 L246.75,429.46 L247.00,428.85 L247.25,427.57 L247.50,425.72 L247.75,422.94 L248.00,418.91 L248.25,413.55 L248.50,406.71 L248.75,398.97 L249.00,390.92 L249.25,383.12 L249.50,376.66 L249.75,372.21 L250.00,370.69 L250.25,370.87 L250.50,370.83 L250.75,370.84 L251.00,370.93 L251.25,370.74 L251.50,370.71 L251.75,370.70 L252.00,370.64 L252.25,370.69 L252.50,370.62 L252.75,370.57 L253.00,370.60 L253.25,371.12 L253.50,374.91 L253.75,381.38 L254.00,389.45 L254.25,397.50 L254.50,404.44 L254.75,410.00 L255.00,413.92 L255.25,416.56 L255.50,418.37 L255.75,419.55 L256.00,420.43 L256.25,421.21 L256.50,421.73 L256.75,422.23 L257.00,422.79 L257.25,423.27 L257.50,423.69 L257.75,424.00 L258.00,424.44 L258.25,424.80 L258.50,425.09 L258.75,425.37 L259.00,425.63 L259.25,425.84 L259.50,426.15 L259.75,426.43 L260.00,426.67 L260.25,426.93 L260.50,427.08 L260.75,427.31 L261.00,427.44 L261.25,427.65 L261.50,427.78 L261.75,427.98 L262.00,428.01 L262.25,428.18 L262.50,428.32 L262.75,428.44 L263.00,428.62 L263.25,428.64 L263.50,428.63 L263.75,428.87 L264.00,428.97 L264.25,428.83 L264.50,428.98 L264.75,429.04 L265.00,429.08 L265.25,429.13 L265.50,429.12 L265.75,429.12 L266.00,429.21 L266.25,429.23 L266.50,429.24 L266.75,429.22 L267.00,429.21 L267.25,429.20 L267.50,429.11 L267.75,429.16 L268.00,429.06 L268.25,429.07 L268.50,429.16 L268.75,429.20 L269.00,429.18 L269.25,429.26 L269.50,429.33 L269.75,429.39 L270.00,429.30 L270.25,429.26 L270.50,429.31 L270.75,429.38 L271.00,429.38 L271.25,429.31 L271.50,429.32 L271.75,429.38 L272.00,429.39 L272.25,429.42 L272.50,429.40 L272.75,429.37 L273.00,429.50 L273.25,429.46 L273.50,429.45 L273.75,429.44 L274.00,429.45 L274.25,429.48 L274.50,429.46 L274.75,429.41 L275.00,429.36 L275.25,429.39 L275.50,429.36 L275.75,429.46 L276.00,429.39 L276.25,429.41 L276.50,429.45 L276.75,429.44 L277.00,429.44 L277.25,429.52 L277.50,429.26 L277.75,429.21 L278.00,429.15 L278.25,429.00 L278.50,428.99 L278.75,429.05 L279.00,428.99 L279.25,428.98 L279.50,429.01 L279.75,429.06 L280.00,429.11 L280.25,429.18 L280.50,429.11 L280.75,429.10 L281.00,429.33 L281.25,429.28 L281.50,429.27 L281.75,429.40 L282.00,429.35 L282.25,429.27 L282.50,429.24 L282.75,429.00 L283.00,428.98 L283.25,428.90 L283.50,428.78 L283.75,428.86 L284.00,428.86 L284.25,428.74 L284.50,428.82 L284.75,428.83 L285.00,428.82 L285.25,428.66 L285.50,428.54 L285.75,428.38 L286.00,428.37 L286.25,428.12 L286.50,428.00 L286.75,427.89 L287.00,427.75 L287.25,427.51 L287.50,427.44 L287.75,427.41 L288.00,427.39 L288.25,427.30 L288.50,427.22 L288.75,427.16 L289.00,427.15 L289.25,427.20 L289.50,427.04 L289.75,427.04 L290.00,427.09 L290.25,427.16 L290.50,427.36 L290.75,427.60 L291.00,427.60 L291.25,427.72 L291.50,427.73 L291.75,427.89 L292.00,427.97 L292.25,428.00 L292.50,427.91 L292.75,428.06 L293.00,428.22 L293.25,428.47 L293.50,428.48 L293.75,428.47 L294.00,428.55 L294.25,428.65 L294.50,428.55 L294.75,428.56 L295.00,428.59 L295.25,428.62 L295.50,428.58 L295.75,428.43 L296.00,428.34 L296.25,428.28 L296.50,427.91 L296.75,427.54 L297.00,426.96 L297.25,426.46 L297.50,425.72 L297.75,424.85 L298.00,423.80 L298.25,422.49 L298.50,420.99 L298.75,419.53 L299.00,417.72 L299.25,415.94 L299.50,414.01 L299.75,412.09 L300.00,410.41 L300.25,408.61 L300.50,407.16 L300.75,405.97 L301.00,405.17 L301.25,404.62 L301.50,404.53 L301.75,404.74 L302.00,405.41 L302.25,406.11 L302.50,407.20 L302.75,408.39 L303.00,409.86 L303.25,411.44 L303.50,413.15 L303.75,414.84 L304.00,416.50 L304.25,418.09 L304.50,419.60 L304.75,421.07 L305.00,422.27 L305.25,423.32 L305.50,424.18 L305.75,425.06 L306.00,425.73 L306.25,426.35 L306.50,426.78 L306.75,427.20 L307.00,427.51 L307.25,427.83 L307.50,428.01 L307.75,428.12 L308.00,428.08 L308.25,428.21 L308.50,428.13 L308.75,428.12 L309.00,428.03 L309.25,428.03 L309.50,428.01 L309.75,428.03 L310.00,428.01 L310.25,428.19 L310.50,428.29 L310.75,428.31 L311.00,428.08 L311.25,428.23 L311.50,428.22 L311.75,428.13 L312.00,427.98 L312.25,427.87 L312.50,427.83 L312.75,428.01 L313.00,427.82 L313.25,427.79 L313.50,427.72 L313.75,427.64 L314.00,427.73 L314.25,427.68 L314.50,427.73 L314.75,427.81 L315.00,427.86 L315.25,427.98 L315.50,428.04 L315.75,428.07 L316.00,428.12 L316.25,428.06 L316.50,428.10 L316.75,428.07 L317.00,427.99 L317.25,427.98 L317.50,427.99 L317.75,427.99 L318.00,427.96 L318.25,427.80 L318.50,427.66 L318.75,427.60 L319.00,427.55 L319.25,427.40 L319.50,427.45 L319.75,427.48 L320.00,427.63 L320.25,427.80 L320.50,427.91 L320.75,427.86 L321.00,427.77 L321.25,427.91 L321.50,427.87 L321.75,427.94 L322.00,427.97 L322.25,427.92 L322.50,428.00 L322.75,427.91 L323.00,427.73 L323.25,427.77 L323.50,427.73 L323.75,427.60 L324.00,427.63 L324.25,427.63 L324.50,427.88 L324.75,427.81 L325.00,427.72 L325.25,427.55 L325.50,427.60 L325.75,427.54 L326.00,427.53 L326.25,427.50 L326.50,427.52 L326.75,427.64 L327.00,427.74 L327.25,427.77 L327.50,427.76 L327.75,427.82 L328.00,427.76 L328.25,427.84 L328.50,427.75 L328.75,427.73 L329.00,427.52 L329.25,427.58 L329.50,427.40 L329.75,427.41 L330.00,427.17 L330.25,427.12 L330.50,427.03 L330.75,427.21 L331.00,427.06 L331.25,427.13 L331.50,427.14 L331.75,427.30 L332.00,427.20 L332.25,427.29 L332.50,427.18 L332.75,427.19 L333.00,427.11 L333.25,427.11 L333.50,427.20 L333.75,427.22 L334.00,427.14 L334.25,427.10 L334.50,427.09 L334.75,427.14 L335.00,427.02 L335.25,426.95 L335.50,427.00 L335.75,427.00 L336.00,427.06 L336.25,427.11 L336.50,426.98 L336.75,427.00 L337.00,426.88 L337.25,426.80 L337.50,426.84 L337.75,426.71 L338.00,426.75 L338.25,426.76 L338.50,426.69 L338.75,426.71 L339.00,426.61 L339.25,426.47 L339.50,426.31 L339.75,426.22 L340.00,426.07 L340.25,425.91 L340.50,425.75 L340.75,425.78 L341.00,425.74 L341.25,425.91 L341.50,425.73 L341.75,425.78 L342.00,425.74 L342.25,425.72 L342.50,425.60 L342.75,425.62 L343.00,425.49 L343.25,425.50 L343.50,425.46 L343.75,425.71 L344.00,425.70 L344.25,425.90 L344.50,425.87 L344.75,425.93 L345.00,425.90 L345.25,426.01 L345.50,425.92 L345.75,426.11 L346.00,426.12 L346.25,426.27 L346.50,426.35 L346.75,426.58 L347.00,426.59 L347.25,426.70 L347.50,426.64 L347.75,426.62 L348.00,426.61 L348.25,426.61 L348.50,426.69 L348.75,426.75 L349.00,426.69 L349.25,426.78 L349.50,426.75 L349.75,426.67 L350.00,426.62 L350.25,426.50 L350.50,426.55 L350.75,426.51 L351.00,426.58 L351.25,426.49 L351.50,426.54 L351.75,426.56 L352.00,426.47 L352.25,426.47 L352.50,426.52 L352.75,426.39 L353.00,426.53 L353.25,426.43 L353.50,426.54 L353.75,426.65 L354.00,426.57 L354.25,426.51 L354.50,426.53 L354.75,426.35 L355.00,426.28 L355.25,426.12 L355.50,425.97 L355.75,425.97 L356.00,425.82 L356.25,425.66 L356.50,425.59 L356.75,425.52 L357.00,425.41 L357.25,425.39 L357.50,425.37 L357.75,425.52 L358.00,425.64 L358.25,425.69 L358.50,425.79 L358.75,425.93 L359.00,426.05 L359.25,426.00 L359.50,425.96 L359.75,425.82 L360.00,425.89 L360.25,425.93 L360.50,425.96 L360.75,425.89 L361.00,425.82 L361.25,425.80 L361.50,425.76 L361.75,425.62 L362.00,425.57 L362.25,425.39 L362.50,425.43 L362.75,425.48 L363.00,425.48 L363.25,425.56 L363.50,425.76 L363.75,425.79 L364.00,425.88 L364.25,425.91 L364.50,426.01 L364.75,426.08 L365.00,426.10 L365.25,426.05 L365.50,426.01 L365.75,426.00 L366.00,425.94 L366.25,425.89 L366.50,425.88 L366.75,425.93 L367.00,425.91 L367.25,426.01 L367.50,426.12 L367.75,426.09 L368.00,426.00 L368.25,425.92 L368.50,425.91 L368.75,425.85 L369.00,425.70 L369.25,425.55 L369.50,425.54 L369.75,425.62 L370.00,425.59 L370.25,425.50 L370.50,425.51 L370.75,425.65 L371.00,425.63 L371.25,425.69 L371.50,425.77 L371.75,425.88 L372.00,425.94 L372.25,426.13 L372.50,426.10 L372.75,426.19 L373.00,426.12 L373.25,425.95 L373.50,425.87 L373.75,425.92 L374.00,425.82 L374.25,425.70 L374.50,425.69 L374.75,425.71 L375.00,425.83 L375.25,425.88 L375.50,425.86 L375.75,425.80 L376.00,425.81 L376.25,425.72 L376.50,425.68 L376.75,425.62 L377.00,425.48 L377.25,425.51 L377.50,425.54 L377.75,425.49 L378.00,425.49 L378.25,425.47 L378.50,425.50 L378.75,425.58 L379.00,425.39 L379.25,425.21 L379.50,425.25 L379.75,425.21 L380.00,425.10 L380.25,424.84 L380.50,424.59 L380.75,424.55 L381.00,424.58 L381.25,424.44 L381.50,424.45 L381.75,424.52 L382.00,424.61 L382.25,424.75 L382.50,424.97 L382.75,425.01 L383.00,425.07 L383.25,425.21 L383.50,425.17 L383.75,425.26 L384.00,425.33 L384.25,425.26 L384.50,425.23 L384.75,425.23 L385.00,425.21 L385.25,425.45 L385.50,425.40 L385.75,425.41 L386.00,425.50 L386.25,425.49 L386.50,425.70 L386.75,425.69 L387.00,425.63 L387.25,425.78 L387.50,425.76 L387.75,425.49 L388.00,425.60 L388.25,425.36 L388.50,425.36 L388.75,425.32 L389.00,425.21 L389.25,425.30 L389.50,425.32 L389.75,425.28 L390.00,425.41 L390.25,425.32 L390.50,425.23 L390.75,425.22 L391.00,425.01 L391.25,424.93 L391.50,424.81 L391.75,424.69 L392.00,424.55 L392.25,424.40 L392.50,424.35 L392.75,424.36 L393.00,424.50 L393.25,424.59 L393.50,424.54 L393.75,424.62 L394.00,424.65 L394.25,424.57 L394.50,424.78 L394.75,424.87 L395.00,424.85 L395.25,424.83 L395.50,424.90 L395.75,424.95 L396.00,425.13 L396.25,424.90 L396.50,424.74 L396.75,424.65 L397.00,424.70 L397.25,424.72 L397.50,424.66 L397.75,424.64 L398.00,424.76 L398.25,424.88 L398.50,424.95 L398.75,424.91 L399.00,424.88 L399.25,424.94 L399.50,424.90 L399.75,424.80 L400.00,424.74 L400.25,424.81 L400.50,424.72 L400.75,424.66 L401.00,424.63 L401.25,424.58 L401.50,424.65 L401.75,424.65 L402.00,424.53 L402.25,424.61 L402.50,424.62 L402.75,424.70 L403.00,424.74 L403.25,424.76 L403.50,424.76 L403.75,424.81 L404.00,424.91 L404.25,424.91 L404.50,424.75 L404.75,424.76 L405.00,424.78 L405.25,424.79 L405.50,424.70 L405.75,424.71 L406.00,424.66 L406.25,424.71 L406.50,424.68 L406.75,424.67 L407.00,424.59 L407.25,424.70 L407.50,424.63 L407.75,424.71 L408.00,424.84" fill="none" stroke="#4d4d4d" stroke-width="0.75"/><path d="M65.90,431.21V433.81M75.90,431.03V433.63M70.50,429.41V432.01M75.30,431.17V433.77M96.30,430.23V432.83M106.30,430.44V433.04M122.10,429.10V431.70M132.10,430.58V433.18M143.20,429.99V432.59M153.20,429.90V432.50M161.30,425.43V428.03M171.30,428.37V430.97M174.40,430.17V432.77M184.40,430.00V432.60M194.30,430.12V432.72M199.10,430.03V432.63M199.70,429.77V432.37M204.50,429.60V432.20M209.60,429.42V432.02M219.60,428.87V431.47M229.70,429.23V431.83M234.50,429.21V431.81M248.80,397.67V400.27M258.80,424.07V426.67M277.10,428.14V430.74M281.90,428.05V430.65M283.20,427.60V430.20M293.20,427.17V429.77M291.30,426.42V429.02M296.10,427.04V429.64M297.00,425.66V428.26M307.00,426.21V428.81M319.90,426.33V428.93M324.70,426.51V429.11M340.60,424.45V427.05M345.40,424.62V427.22M356.10,424.52V427.12M360.90,424.52V427.12M360.50,424.66V427.26M365.30,424.75V427.35M379.80,423.91V426.51M384.60,423.93V426.53M391.20,423.63V426.23M396.00,423.83V426.43" fill="none" stroke="#333" stroke-width="0.6"/><text class="pl plb" transform="translate(73.60,426.80) rotate(-90)">theanine 1.918</text><text class="pl plb" transform="translate(75.90,426.80) rotate(-90)">Unknown 1.985</text><text class="pl" transform="translate(104.00,427.20) rotate(-90)">theobromine 3.112</text><text class="pl" transform="translate(129.80,425.50) rotate(-90)">GC 4.125</text><text class="pl" transform="translate(150.90,402.90) rotate(-90)">caffeine 4.952</text><text class="pl" transform="translate(169.00,366.90) rotate(-90)">EGC 5.602</text><text class="pl" transform="translate(182.10,426.30) rotate(-90)">catechin 6.150</text><text class="pl" transform="translate(199.70,426.00) rotate(-90)">Unknown 6.833</text><text class="pl" transform="translate(205.10,426.00) rotate(-90)">Unknown 7.032</text><text class="pl" transform="translate(217.30,411.20) rotate(-90)">EC 7.538</text><text class="pl" transform="translate(235.10,426.00) rotate(-90)">Unknown 8.215</text><text class="pl" transform="translate(256.50,366.20) rotate(-90)">EGCg 9.028</text><text class="pl" transform="translate(282.50,424.20) rotate(-90)">Unknown 10.002</text><text class="pl" transform="translate(290.90,423.40) rotate(-90)">GCg 10.388</text><text class="pl" transform="translate(296.70,423.40) rotate(-90)">Unknown 10.587</text><text class="pl" transform="translate(304.70,401.00) rotate(-90)">ECg 10.890</text><text class="pl" transform="translate(325.30,423.30) rotate(-90)">Unknown 11.702</text><text class="pl" transform="translate(346.00,421.60) rotate(-90)">Unknown 12.463</text><text class="pl" transform="translate(361.50,421.60) rotate(-90)">Unknown 13.085</text><text class="pl" transform="translate(365.90,421.60) rotate(-90)">Unknown 13.257</text><text class="pl" transform="translate(385.20,420.10) rotate(-90)">Unknown 13.962</text><text class="pl" transform="translate(396.60,420.10) rotate(-90)">Unknown 14.413</text><text class="num" x="69.90" y="394.70">1</text><text class="num" x="101.80" y="387.70">2</text><text class="num" x="127.80" y="404.20">4</text><text class="num" x="149.90" y="371.00">5</text><text class="num" x="167.40" y="343.50">6</text><text class="num" x="180.80" y="392.00">7</text><text class="num" x="215.90" y="389.30">8</text><text class="num" x="255.10" y="340.80">9</text><text class="num" x="288.80" y="399.00">10</text><text class="num" x="304.10" y="374.50">11</text><text class="ttl" x="362.30" y="357.90" textLength="43.4" lengthAdjust="spacingAndGlyphs">Joongjak</text></g>
<g><line x1="19.05" y1="447.50" x2="19.05" y2="541.20" stroke="#9a9a9a" stroke-width="1.6"/><line x1="18.25" y1="541.20" x2="407.8" y2="541.20" stroke="#9a9a9a" stroke-width="1.6"/><line x1="17.4" y1="541.20" x2="19.05" y2="541.20" stroke="#555" stroke-width="0.6"/><text x="17.2" y="542.90" class="yt" textLength="13.7" lengthAdjust="spacingAndGlyphs">0.0E+00</text><line x1="17.4" y1="528.67" x2="19.05" y2="528.67" stroke="#555" stroke-width="0.6"/><text x="17.2" y="530.37" class="yt" textLength="13.7" lengthAdjust="spacingAndGlyphs">2.0E+05</text><line x1="17.4" y1="516.14" x2="19.05" y2="516.14" stroke="#555" stroke-width="0.6"/><text x="17.2" y="517.84" class="yt" textLength="13.7" lengthAdjust="spacingAndGlyphs">4.0E+05</text><line x1="17.4" y1="503.61" x2="19.05" y2="503.61" stroke="#555" stroke-width="0.6"/><text x="17.2" y="505.31" class="yt" textLength="13.7" lengthAdjust="spacingAndGlyphs">6.0E+05</text><line x1="17.4" y1="491.08" x2="19.05" y2="491.08" stroke="#555" stroke-width="0.6"/><text x="17.2" y="492.78" class="yt" textLength="13.7" lengthAdjust="spacingAndGlyphs">8.0E+05</text><line x1="17.4" y1="478.55" x2="19.05" y2="478.55" stroke="#555" stroke-width="0.6"/><text x="17.2" y="480.25" class="yt" textLength="13.7" lengthAdjust="spacingAndGlyphs">1.0E+06</text><line x1="17.4" y1="466.02" x2="19.05" y2="466.02" stroke="#555" stroke-width="0.6"/><text x="17.2" y="467.72" class="yt" textLength="13.7" lengthAdjust="spacingAndGlyphs">1.2E+06</text><line x1="17.4" y1="453.49" x2="19.05" y2="453.49" stroke="#555" stroke-width="0.6"/><text x="17.2" y="455.19" class="yt" textLength="13.7" lengthAdjust="spacingAndGlyphs">1.4E+06</text><text x="20.2" y="446.40" class="uv">UV</text><text x="72.50" y="544.90" class="xt">2.00</text><text x="124.20" y="544.90" class="xt">4.00</text><text x="175.90" y="544.90" class="xt">6.00</text><text x="227.60" y="544.90" class="xt">8.00</text><text x="279.30" y="544.90" class="xt">10.00</text><text x="331.00" y="544.90" class="xt">12.00</text><text x="382.70" y="544.90" class="xt">14.00</text><text x="399.3" y="544.90" class="xt">[min]</text><path d="M20.00,541.37 L20.25,541.29 L20.50,541.40 L20.75,541.26 L21.00,541.16 L21.25,540.99 L21.50,541.07 L21.75,540.89 L22.00,540.90 L22.25,540.79 L22.50,540.86 L22.75,540.96 L23.00,541.07 L23.25,540.99 L23.50,541.01 L23.75,541.02 L24.00,540.82 L24.25,540.83 L24.50,540.78 L24.75,540.75 L25.00,540.83 L25.25,540.86 L25.50,540.85 L25.75,540.87 L26.00,540.87 L26.25,540.82 L26.50,540.78 L26.75,540.61 L27.00,540.60 L27.25,540.61 L27.50,540.58 L27.75,540.68 L28.00,540.72 L28.25,540.72 L28.50,540.70 L28.75,540.75 L29.00,540.87 L29.25,541.00 L29.50,540.93 L29.75,540.93 L30.00,540.95 L30.25,541.09 L30.50,541.00 L30.75,540.87 L31.00,540.82 L31.25,540.68 L31.50,540.66 L31.75,540.72 L32.00,540.68 L32.25,540.67 L32.50,540.71 L32.75,540.83 L33.00,540.86 L33.25,540.87 L33.50,540.86 L33.75,540.90 L34.00,540.93 L34.25,540.86 L34.50,540.96 L34.75,540.91 L35.00,540.89 L35.25,540.93 L35.50,540.87 L35.75,540.85 L36.00,540.85 L36.25,540.65 L36.50,540.61 L36.75,540.59 L37.00,540.42 L37.25,540.34 L37.50,540.43 L37.75,540.47 L38.00,540.48 L38.25,540.75 L38.50,540.81 L38.75,540.83 L39.00,540.90 L39.25,540.79 L39.50,540.89 L39.75,540.78 L40.00,540.63 L40.25,540.56 L40.50,540.61 L40.75,540.80 L41.00,540.93 L41.25,540.89 L41.50,540.92 L41.75,541.01 L42.00,541.08 L42.25,541.13 L42.50,540.97 L42.75,540.84 L43.00,540.74 L43.25,540.96 L43.50,541.11 L43.75,541.08 L44.00,541.05 L44.25,541.00 L44.50,541.04 L44.75,541.10 L45.00,540.99 L45.25,540.88 L45.50,540.96 L45.75,541.05 L46.00,541.11 L46.25,540.96 L46.50,540.87 L46.75,540.82 L47.00,540.70 L47.25,540.61 L47.50,540.57 L47.75,540.61 L48.00,540.92 L48.25,541.05 L48.50,541.21 L48.75,541.17 L49.00,541.15 L49.25,541.04 L49.50,540.91 L49.75,540.77 L50.00,540.61 L50.25,540.39 L50.50,540.45 L50.75,540.42 L51.00,540.51 L51.25,540.72 L51.50,540.70 L51.75,540.82 L52.00,540.95 L52.25,540.98 L52.50,541.03 L52.75,541.16 L53.00,540.91 L53.25,540.83 L53.50,540.80 L53.75,540.86 L54.00,540.83 L54.25,540.81 L54.50,540.63 L54.75,540.75 L55.00,540.97 L55.25,541.03 L55.50,540.87 L55.75,540.86 L56.00,541.01 L56.25,541.09 L56.50,541.22 L56.75,541.15 L57.00,541.00 L57.25,541.10 L57.50,541.04 L57.75,540.92 L58.00,540.97 L58.25,540.91 L58.50,540.69 L58.75,540.82 L59.00,540.88 L59.25,540.87 L59.50,540.87 L59.75,540.77 L60.00,540.62 L60.25,540.90 L60.50,540.82 L60.75,540.82 L61.00,541.00 L61.25,541.07 L61.50,540.99 L61.75,541.10 L62.00,541.10 L62.25,541.21 L62.50,541.03 L62.75,540.86 L63.00,540.88 L63.25,540.79 L63.50,540.81 L63.75,540.76 L64.00,540.69 L64.25,540.73 L64.50,540.69 L64.75,540.54 L65.00,540.74 L65.25,540.76 L65.50,540.77 L65.75,540.77 L66.00,540.87 L66.25,540.96 L66.50,541.10 L66.75,541.09 L67.00,541.08 L67.25,541.01 L67.50,541.01 L67.75,540.94 L68.00,540.90 L68.25,540.60 L68.50,540.35 L68.75,540.16 L69.00,539.81 L69.25,539.50 L69.50,539.16 L69.75,538.98 L70.00,538.99 L70.25,539.09 L70.50,539.10 L70.75,539.27 L71.00,539.48 L71.25,539.83 L71.50,540.00 L71.75,540.18 L72.00,540.29 L72.25,540.50 L72.50,540.62 L72.75,540.78 L73.00,540.87 L73.25,540.93 L73.50,540.81 L73.75,540.77 L74.00,540.71 L74.25,540.74 L74.50,540.61 L74.75,540.45 L75.00,540.38 L75.25,540.54 L75.50,540.59 L75.75,540.62 L76.00,540.62 L76.25,540.75 L76.50,540.86 L76.75,541.10 L77.00,541.17 L77.25,541.15 L77.50,541.19 L77.75,541.14 L78.00,541.17 L78.25,541.17 L78.50,541.00 L78.75,540.98 L79.00,541.06 L79.25,540.83 L79.50,540.91 L79.75,540.87 L80.00,540.88 L80.25,540.91 L80.50,540.84 L80.75,540.72 L81.00,540.84 L81.25,540.82 L81.50,540.79 L81.75,540.85 L82.00,540.96 L82.25,541.01 L82.50,541.02 L82.75,541.07 L83.00,540.99 L83.25,540.89 L83.50,540.81 L83.75,540.56 L84.00,540.54 L84.25,540.64 L84.50,540.67 L84.75,540.65 L85.00,540.72 L85.25,540.76 L85.50,540.88 L85.75,540.76 L86.00,540.73 L86.25,540.72 L86.50,540.72 L86.75,540.64 L87.00,540.52 L87.25,540.61 L87.50,540.66 L87.75,540.63 L88.00,540.74 L88.25,540.73 L88.50,540.79 L88.75,540.88 L89.00,540.67 L89.25,540.68 L89.50,540.75 L89.75,540.63 L90.00,540.68 L90.25,540.63 L90.50,540.61 L90.75,540.82 L91.00,540.88 L91.25,540.89 L91.50,540.96 L91.75,540.99 L92.00,541.08 L92.25,541.07 L92.50,541.06 L92.75,541.07 L93.00,541.01 L93.25,540.95 L93.50,540.85 L93.75,540.85 L94.00,540.81 L94.25,540.71 L94.50,540.70 L94.75,540.58 L95.00,540.48 L95.25,540.63 L95.50,540.45 L95.75,540.31 L96.00,540.27 L96.25,539.97 L96.50,539.92 L96.75,539.92 L97.00,539.65 L97.25,539.63 L97.50,539.72 L97.75,539.74 L98.00,539.78 L98.25,539.79 L98.50,539.62 L98.75,539.60 L99.00,539.59 L99.25,539.51 L99.50,539.23 L99.75,539.12 L100.00,539.01 L100.25,539.07 L100.50,539.17 L100.75,539.15 L101.00,539.00 L101.25,539.09 L101.50,539.24 L101.75,539.38 L102.00,539.36 L102.25,539.38 L102.50,539.38 L102.75,539.49 L103.00,539.49 L103.25,539.52 L103.50,539.52 L103.75,539.59 L104.00,539.48 L104.25,539.54 L104.50,539.78 L104.75,539.83 L105.00,539.92 L105.25,539.74 L105.50,539.87 L105.75,540.07 L106.00,540.19 L106.25,540.13 L106.50,540.33 L106.75,540.49 L107.00,540.90 L107.25,540.91 L107.50,540.96 L107.75,540.99 L108.00,540.88 L108.25,540.80 L108.50,540.62 L108.75,540.53 L109.00,540.50 L109.25,540.48 L109.50,540.45 L109.75,540.54 L110.00,540.55 L110.25,540.60 L110.50,540.56 L110.75,540.67 L111.00,540.71 L111.25,540.66 L111.50,540.74 L111.75,540.83 L112.00,540.82 L112.25,540.90 L112.50,540.84 L112.75,540.72 L113.00,540.77 L113.25,540.65 L113.50,540.55 L113.75,540.52 L114.00,540.37 L114.25,540.47 L114.50,540.54 L114.75,540.60 L115.00,540.73 L115.25,540.77 L115.50,540.73 L115.75,540.81 L116.00,540.55 L116.25,540.57 L116.50,540.49 L116.75,540.44 L117.00,540.37 L117.25,540.45 L117.50,540.49 L117.75,540.62 L118.00,540.68 L118.25,540.58 L118.50,540.53 L118.75,540.55 L119.00,540.51 L119.25,540.49 L119.50,540.46 L119.75,540.26 L120.00,540.33 L120.25,540.35 L120.50,540.16 L120.75,539.94 L121.00,539.72 L121.25,539.47 L121.50,539.30 L121.75,538.92 L122.00,538.66 L122.25,538.52 L122.50,538.36 L122.75,538.05 L123.00,537.89 L123.25,537.69 L123.50,537.65 L123.75,537.52 L124.00,537.45 L124.25,537.39 L124.50,537.36 L124.75,537.34 L125.00,537.37 L125.25,537.35 L125.50,537.28 L125.75,537.18 L126.00,537.27 L126.25,537.31 L126.50,537.34 L126.75,537.28 L127.00,537.37 L127.25,537.54 L127.50,537.73 L127.75,537.77 L128.00,538.01 L128.25,538.10 L128.50,538.34 L128.75,538.49 L129.00,538.62 L129.25,538.75 L129.50,539.03 L129.75,539.19 L130.00,539.42 L130.25,539.76 L130.50,539.91 L130.75,540.13 L131.00,540.36 L131.25,540.43 L131.50,540.50 L131.75,540.52 L132.00,540.39 L132.25,540.49 L132.50,540.40 L132.75,540.33 L133.00,540.33 L133.25,540.34 L133.50,540.31 L133.75,540.31 L134.00,540.21 L134.25,540.25 L134.50,540.20 L134.75,540.02 L135.00,539.98 L135.25,540.14 L135.50,540.05 L135.75,540.13 L136.00,540.23 L136.25,540.47 L136.50,540.59 L136.75,540.54 L137.00,540.36 L137.25,540.50 L137.50,540.36 L137.75,540.27 L138.00,540.15 L138.25,540.17 L138.50,540.22 L138.75,540.29 L139.00,540.23 L139.25,540.47 L139.50,540.36 L139.75,540.35 L140.00,540.31 L140.25,540.38 L140.50,540.37 L140.75,540.40 L141.00,540.36 L141.25,540.44 L141.50,540.35 L141.75,540.47 L142.00,540.55 L142.25,540.60 L142.50,540.63 L142.75,540.49 L143.00,540.49 L143.25,540.36 L143.50,540.14 L143.75,539.84 L144.00,539.53 L144.25,539.27 L144.50,538.75 L144.75,537.99 L145.00,536.99 L145.25,535.57 L145.50,533.74 L145.75,531.56 L146.00,529.00 L146.25,526.33 L146.50,523.65 L146.75,521.14 L147.00,518.93 L147.25,517.22 L147.50,516.09 L147.75,515.50 L148.00,515.54 L148.25,516.21 L148.50,517.34 L148.75,518.72 L149.00,520.46 L149.25,522.41 L149.50,524.39 L149.75,526.58 L150.00,528.46 L150.25,530.21 L150.50,531.97 L150.75,533.38 L151.00,534.62 L151.25,535.71 L151.50,536.61 L151.75,537.41 L152.00,538.14 L152.25,538.59 L152.50,539.04 L152.75,539.48 L153.00,539.76 L153.25,539.94 L153.50,540.00 L153.75,540.06 L154.00,540.33 L154.25,540.39 L154.50,540.25 L154.75,540.24 L155.00,540.22 L155.25,540.24 L155.50,540.18 L155.75,539.92 L156.00,539.83 L156.25,539.88 L156.50,539.95 L156.75,539.88 L157.00,539.90 L157.25,539.94 L157.50,540.00 L157.75,540.14 L158.00,540.12 L158.25,540.05 L158.50,540.03 L158.75,540.03 L159.00,540.00 L159.25,539.95 L159.50,539.71 L159.75,539.62 L160.00,539.38 L160.25,539.13 L160.50,538.64 L160.75,537.99 L161.00,537.24 L161.25,536.09 L161.50,534.67 L161.75,532.83 L162.00,530.58 L162.25,527.97 L162.50,524.67 L162.75,520.96 L163.00,517.01 L163.25,512.46 L163.50,507.83 L163.75,502.95 L164.00,498.02 L164.25,493.73 L164.50,489.77 L164.75,486.49 L165.00,484.24 L165.25,482.95 L165.50,482.69 L165.75,483.44 L166.00,484.70 L166.25,486.65 L166.50,489.27 L166.75,492.24 L167.00,495.57 L167.25,499.25 L167.50,502.98 L167.75,506.74 L168.00,510.68 L168.25,514.32 L168.50,517.87 L168.75,521.18 L169.00,524.17 L169.25,526.88 L169.50,529.33 L169.75,531.36 L170.00,533.13 L170.25,534.57 L170.50,535.75 L170.75,536.82 L171.00,537.62 L171.25,538.28 L171.50,538.73 L171.75,538.94 L172.00,539.26 L172.25,539.41 L172.50,539.48 L172.75,539.52 L173.00,539.62 L173.25,539.67 L173.50,539.79 L173.75,539.74 L174.00,539.95 L174.25,540.15 L174.50,540.23 L174.75,540.18 L175.00,540.08 L175.25,540.02 L175.50,540.02 L175.75,539.58 L176.00,539.23 L176.25,538.98 L176.50,538.80 L176.75,538.77 L177.00,538.64 L177.25,538.48 L177.50,538.51 L177.75,538.49 L178.00,538.47 L178.25,538.51 L178.50,538.41 L178.75,538.47 L179.00,538.56 L179.25,538.72 L179.50,538.79 L179.75,538.84 L180.00,538.94 L180.25,538.99 L180.50,539.20 L180.75,539.29 L181.00,539.34 L181.25,539.43 L181.50,539.69 L181.75,539.69 L182.00,539.78 L182.25,539.64 L182.50,539.57 L182.75,539.57 L183.00,539.64 L183.25,539.56 L183.50,539.66 L183.75,539.72 L184.00,539.94 L184.25,540.08 L184.50,540.20 L184.75,540.18 L185.00,540.19 L185.25,540.22 L185.50,540.17 L185.75,540.01 L186.00,539.86 L186.25,539.78 L186.50,539.76 L186.75,539.78 L187.00,539.63 L187.25,539.72 L187.50,539.73 L187.75,539.95 L188.00,539.82 L188.25,539.77 L188.50,539.89 L188.75,539.98 L189.00,539.97 L189.25,540.10 L189.50,539.97 L189.75,540.14 L190.00,540.13 L190.25,540.02 L190.50,540.06 L190.75,539.96 L191.00,539.82 L191.25,539.73 L191.50,539.63 L191.75,539.80 L192.00,539.82 L192.25,539.75 L192.50,539.80 L192.75,539.78 L193.00,539.85 L193.25,539.89 L193.50,539.81 L193.75,539.75 L194.00,539.83 L194.25,539.63 L194.50,539.72 L194.75,539.74 L195.00,539.85 L195.25,539.83 L195.50,539.92 L195.75,539.80 L196.00,539.86 L196.25,539.77 L196.50,539.75 L196.75,539.54 L197.00,539.55 L197.25,539.46 L197.50,539.47 L197.75,539.58 L198.00,539.59 L198.25,539.64 L198.50,539.84 L198.75,539.75 L199.00,539.79 L199.25,539.81 L199.50,539.76 L199.75,539.81 L200.00,539.81 L200.25,539.70 L200.50,539.83 L200.75,539.74 L201.00,539.74 L201.25,539.78 L201.50,539.69 L201.75,539.71 L202.00,539.79 L202.25,539.67 L202.50,539.61 L202.75,539.57 L203.00,539.60 L203.25,539.56 L203.50,539.42 L203.75,539.24 L204.00,539.41 L204.25,539.49 L204.50,539.56 L204.75,539.58 L205.00,539.62 L205.25,539.60 L205.50,539.70 L205.75,539.58 L206.00,539.48 L206.25,539.36 L206.50,539.29 L206.75,539.29 L207.00,539.32 L207.25,539.37 L207.50,539.38 L207.75,539.44 L208.00,539.44 L208.25,539.49 L208.50,539.57 L208.75,539.59 L209.00,539.57 L209.25,539.41 L209.50,539.32 L209.75,539.17 L210.00,539.08 L210.25,538.87 L210.50,538.43 L210.75,538.05 L211.00,537.77 L211.25,537.18 L211.50,536.42 L211.75,535.36 L212.00,534.35 L212.25,533.30 L212.50,531.94 L212.75,530.50 L213.00,529.18 L213.25,527.97 L213.50,526.78 L213.75,525.65 L214.00,524.87 L214.25,524.44 L214.50,524.42 L214.75,524.52 L215.00,525.02 L215.25,525.51 L215.50,526.43 L215.75,527.53 L216.00,528.67 L216.25,529.62 L216.50,530.76 L216.75,531.74 L217.00,532.95 L217.25,533.94 L217.50,534.69 L217.75,535.45 L218.00,536.30 L218.25,536.87 L218.50,537.40 L218.75,537.90 L219.00,538.20 L219.25,538.45 L219.50,538.55 L219.75,538.67 L220.00,538.77 L220.25,539.06 L220.50,539.05 L220.75,539.04 L221.00,539.14 L221.25,539.21 L221.50,539.26 L221.75,539.34 L222.00,539.14 L222.25,539.20 L222.50,539.21 L222.75,539.21 L223.00,539.37 L223.25,539.29 L223.50,539.24 L223.75,539.37 L224.00,539.30 L224.25,539.28 L224.50,539.35 L224.75,539.21 L225.00,539.11 L225.25,539.09 L225.50,539.05 L225.75,538.97 L226.00,538.97 L226.25,538.87 L226.50,538.74 L226.75,538.75 L227.00,538.77 L227.25,538.63 L227.50,538.65 L227.75,538.58 L228.00,538.59 L228.25,538.80 L228.50,538.74 L228.75,538.71 L229.00,538.73 L229.25,538.77 L229.50,538.85 L229.75,538.83 L230.00,538.77 L230.25,538.82 L230.50,538.86 L230.75,538.95 L231.00,538.93 L231.25,538.94 L231.50,538.94 L231.75,538.84 L232.00,538.70 L232.25,538.77 L232.50,538.68 L232.75,538.64 L233.00,538.58 L233.25,538.48 L233.50,538.54 L233.75,538.73 L234.00,538.66 L234.25,538.77 L234.50,538.74 L234.75,538.84 L235.00,538.90 L235.25,538.79 L235.50,538.81 L235.75,538.82 L236.00,538.74 L236.25,538.69 L236.50,538.58 L236.75,538.73 L237.00,538.73 L237.25,538.60 L237.50,538.72 L237.75,538.88 L238.00,538.82 L238.25,538.82 L238.50,538.84 L238.75,538.84 L239.00,538.80 L239.25,538.82 L239.50,538.55 L239.75,538.67 L240.00,538.67 L240.25,538.57 L240.50,538.61 L240.75,538.76 L241.00,538.58 L241.25,538.68 L241.50,538.75 L241.75,538.70 L242.00,538.58 L242.25,538.54 L242.50,538.45 L242.75,538.35 L243.00,538.41 L243.25,538.37 L243.50,538.38 L243.75,538.36 L244.00,538.57 L244.25,538.62 L244.50,538.75 L244.75,538.65 L245.00,538.49 L245.25,538.48 L245.50,538.55 L245.75,538.33 L246.00,538.17 L246.25,538.02 L246.50,537.65 L246.75,537.40 L247.00,536.46 L247.25,534.97 L247.50,532.68 L247.75,529.31 L248.00,524.71 L248.25,518.83 L248.50,511.54 L248.75,503.64 L249.00,495.57 L249.25,488.26 L249.50,482.55 L249.75,479.41 L250.00,478.97 L250.25,478.97 L250.50,478.84 L250.75,478.79 L251.00,478.64 L251.25,478.70 L251.50,478.57 L251.75,478.59 L252.00,478.57 L252.25,478.54 L252.50,478.52 L252.75,478.67 L253.00,478.62 L253.25,480.19 L253.50,485.21 L253.75,492.48 L254.00,500.82 L254.25,508.60 L254.50,515.04 L254.75,520.00 L255.00,523.31 L255.25,525.52 L255.50,527.04 L255.75,528.22 L256.00,529.22 L256.25,529.97 L256.50,530.50 L256.75,531.10 L257.00,531.74 L257.25,532.08 L257.50,532.49 L257.75,532.78 L258.00,533.06 L258.25,533.45 L258.50,533.75 L258.75,534.00 L259.00,534.44 L259.25,534.70 L259.50,534.95 L259.75,535.16 L260.00,535.42 L260.25,535.73 L260.50,535.84 L260.75,536.00 L261.00,536.04 L261.25,536.26 L261.50,536.44 L261.75,536.52 L262.00,536.44 L262.25,536.48 L262.50,536.61 L262.75,536.77 L263.00,536.73 L263.25,536.76 L263.50,536.86 L263.75,537.02 L264.00,536.99 L264.25,537.06 L264.50,537.14 L264.75,537.18 L265.00,537.36 L265.25,537.46 L265.50,537.42 L265.75,537.57 L266.00,537.54 L266.25,537.47 L266.50,537.59 L266.75,537.50 L267.00,537.47 L267.25,537.54 L267.50,537.54 L267.75,537.61 L268.00,537.77 L268.25,537.71 L268.50,537.75 L268.75,537.70 L269.00,537.80 L269.25,537.81 L269.50,537.82 L269.75,537.77 L270.00,537.81 L270.25,537.84 L270.50,537.97 L270.75,537.94 L271.00,537.98 L271.25,537.94 L271.50,537.92 L271.75,537.81 L272.00,537.75 L272.25,537.63 L272.50,537.58 L272.75,537.65 L273.00,537.65 L273.25,537.55 L273.50,537.71 L273.75,537.66 L274.00,537.64 L274.25,537.63 L274.50,537.56 L274.75,537.58 L275.00,537.71 L275.25,537.64 L275.50,537.72 L275.75,537.75 L276.00,537.84 L276.25,537.75 L276.50,537.79 L276.75,537.70 L277.00,537.66 L277.25,537.67 L277.50,537.50 L277.75,537.41 L278.00,537.43 L278.25,537.40 L278.50,537.40 L278.75,537.51 L279.00,537.45 L279.25,537.63 L279.50,537.66 L279.75,537.63 L280.00,537.54 L280.25,537.58 L280.50,537.55 L280.75,537.71 L281.00,537.74 L281.25,537.66 L281.50,537.64 L281.75,537.77 L282.00,537.71 L282.25,537.54 L282.50,537.43 L282.75,537.37 L283.00,537.42 L283.25,537.39 L283.50,537.39 L283.75,537.35 L284.00,537.33 L284.25,537.22 L284.50,537.05 L284.75,536.88 L285.00,536.87 L285.25,536.73 L285.50,536.71 L285.75,536.63 L286.00,536.55 L286.25,536.53 L286.50,536.55 L286.75,536.35 L287.00,536.15 L287.25,535.96 L287.50,536.00 L287.75,535.76 L288.00,535.66 L288.25,535.63 L288.50,535.61 L288.75,535.65 L289.00,535.74 L289.25,535.72 L289.50,535.87 L289.75,535.92 L290.00,535.86 L290.25,535.98 L290.50,536.08 L290.75,536.06 L291.00,536.08 L291.25,536.19 L291.50,536.24 L291.75,536.21 L292.00,536.30 L292.25,536.24 L292.50,536.37 L292.75,536.36 L293.00,536.36 L293.25,536.46 L293.50,536.61 L293.75,536.66 L294.00,536.79 L294.25,536.70 L294.50,536.72 L294.75,536.60 L295.00,536.65 L295.25,536.64 L295.50,536.48 L295.75,536.31 L296.00,536.20 L296.25,535.99 L296.50,535.76 L296.75,535.11 L297.00,534.45 L297.25,533.71 L297.50,532.73 L297.75,531.73 L298.00,530.43 L298.25,528.96 L298.50,527.37 L298.75,525.73 L299.00,523.83 L299.25,522.03 L299.50,519.94 L299.75,518.09 L300.00,516.53 L300.25,515.22 L300.50,514.17 L300.75,513.53 L301.00,513.23 L301.25,513.37 L301.50,513.89 L301.75,514.74 L302.00,515.71 L302.25,516.91 L302.50,518.34 L302.75,519.90 L303.00,521.46 L303.25,523.06 L303.50,524.46 L303.75,526.08 L304.00,527.59 L304.25,528.90 L304.50,530.10 L304.75,531.37 L305.00,532.46 L305.25,533.20 L305.50,533.78 L305.75,534.26 L306.00,534.75 L306.25,535.12 L306.50,535.36 L306.75,535.60 L307.00,536.06 L307.25,536.29 L307.50,536.33 L307.75,536.36 L308.00,536.42 L308.25,536.49 L308.50,536.35 L308.75,536.17 L309.00,536.19 L309.25,536.20 L309.50,536.19 L309.75,536.28 L310.00,536.20 L310.25,536.30 L310.50,536.46 L310.75,536.38 L311.00,536.56 L311.25,536.64 L311.50,536.53 L311.75,536.57 L312.00,536.53 L312.25,536.53 L312.50,536.59 L312.75,536.43 L313.00,536.42 L313.25,536.53 L313.50,536.64 L313.75,536.61 L314.00,536.54 L314.25,536.51 L314.50,536.55 L314.75,536.48 L315.00,536.48 L315.25,536.49 L315.50,536.42 L315.75,536.43 L316.00,536.54 L316.25,536.51 L316.50,536.64 L316.75,536.58 L317.00,536.54 L317.25,536.59 L317.50,536.59 L317.75,536.52 L318.00,536.50 L318.25,536.38 L318.50,536.46 L318.75,536.35 L319.00,536.37 L319.25,536.40 L319.50,536.40 L319.75,536.36 L320.00,536.35 L320.25,536.09 L320.50,536.12 L320.75,536.08 L321.00,535.87 L321.25,535.88 L321.50,535.96 L321.75,536.01 L322.00,536.17 L322.25,536.14 L322.50,536.13 L322.75,536.29 L323.00,536.32 L323.25,536.26 L323.50,536.30 L323.75,536.30 L324.00,536.27 L324.25,536.27 L324.50,536.28 L324.75,536.29 L325.00,536.34 L325.25,536.35 L325.50,536.25 L325.75,536.21 L326.00,536.18 L326.25,536.08 L326.50,536.01 L326.75,535.92 L327.00,535.81 L327.25,535.83 L327.50,535.91 L327.75,535.99 L328.00,535.98 L328.25,535.91 L328.50,535.98 L328.75,535.99 L329.00,535.99 L329.25,535.91 L329.50,535.95 L329.75,536.05 L330.00,536.15 L330.25,536.15 L330.50,536.20 L330.75,536.13 L331.00,536.23 L331.25,535.96 L331.50,535.84 L331.75,535.70 L332.00,535.61 L332.25,535.47 L332.50,535.49 L332.75,535.35 L333.00,535.44 L333.25,535.41 L333.50,535.42 L333.75,535.33 L334.00,535.38 L334.25,535.42 L334.50,535.36 L334.75,535.41 L335.00,535.41 L335.25,535.28 L335.50,535.38 L335.75,535.38 L336.00,535.36 L336.25,535.50 L336.50,535.40 L336.75,535.41 L337.00,535.50 L337.25,535.52 L337.50,535.43 L337.75,535.38 L338.00,535.38 L338.25,535.41 L338.50,535.43 L338.75,535.26 L339.00,535.17 L339.25,535.10 L339.50,535.03 L339.75,534.87 L340.00,534.82 L340.25,534.54 L340.50,534.63 L340.75,534.47 L341.00,534.40 L341.25,534.28 L341.50,534.12 L341.75,534.03 L342.00,534.18 L342.25,534.05 L342.50,533.91 L342.75,533.89 L343.00,533.93 L343.25,533.92 L343.50,533.85 L343.75,533.81 L344.00,533.86 L344.25,534.00 L344.50,534.09 L344.75,534.07 L345.00,534.16 L345.25,534.27 L345.50,534.32 L345.75,534.58 L346.00,534.70 L346.25,534.74 L346.50,534.89 L346.75,534.97 L347.00,535.04 L347.25,535.08 L347.50,534.94 L347.75,534.83 L348.00,534.86 L348.25,534.82 L348.50,534.94 L348.75,534.91 L349.00,534.99 L349.25,534.92 L349.50,535.06 L349.75,535.13 L350.00,535.14 L350.25,535.13 L350.50,535.11 L350.75,535.02 L351.00,535.13 L351.25,535.12 L351.50,534.95 L351.75,534.86 L352.00,534.75 L352.25,534.75 L352.50,534.66 L352.75,534.64 L353.00,534.61 L353.25,534.73 L353.50,534.86 L353.75,534.94 L354.00,534.82 L354.25,534.89 L354.50,534.89 L354.75,534.85 L355.00,534.83 L355.25,534.72 L355.50,534.59 L355.75,534.72 L356.00,534.74 L356.25,534.59 L356.50,534.47 L356.75,534.41 L357.00,534.30 L357.25,534.26 L357.50,534.12 L357.75,534.01 L358.00,533.94 L358.25,533.89 L358.50,533.84 L358.75,533.91 L359.00,533.90 L359.25,533.94 L359.50,533.95 L359.75,534.00 L360.00,534.11 L360.25,534.08 L360.50,533.99 L360.75,533.94 L361.00,533.90 L361.25,533.86 L361.50,533.77 L361.75,533.70 L362.00,533.76 L362.25,533.66 L362.50,533.61 L362.75,533.68 L363.00,533.62 L363.25,533.87 L363.50,533.90 L363.75,533.88 L364.00,534.06 L364.25,534.23 L364.50,534.20 L364.75,534.31 L365.00,534.29 L365.25,534.40 L365.50,534.40 L365.75,534.38 L366.00,534.44 L366.25,534.58 L366.50,534.58 L366.75,534.56 L367.00,534.55 L367.25,534.64 L367.50,534.67 L367.75,534.71 L368.00,534.56 L368.25,534.60 L368.50,534.48 L368.75,534.50 L369.00,534.51 L369.25,534.49 L369.50,534.28 L369.75,534.33 L370.00,534.32 L370.25,534.28 L370.50,534.13 L370.75,534.04 L371.00,534.08 L371.25,534.05 L371.50,534.00 L371.75,533.99 L372.00,533.97 L372.25,533.96 L372.50,533.96 L372.75,533.90 L373.00,533.93 L373.25,533.99 L373.50,534.04 L373.75,534.05 L374.00,534.22 L374.25,534.32 L374.50,534.43 L374.75,534.44 L375.00,534.34 L375.25,534.29 L375.50,534.28 L375.75,534.05 L376.00,533.86 L376.25,533.84 L376.50,533.77 L376.75,533.68 L377.00,533.68 L377.25,533.85 L377.50,533.85 L377.75,533.87 L378.00,533.75 L378.25,533.79 L378.50,533.99 L378.75,533.91 L379.00,533.70 L379.25,533.65 L379.50,533.52 L379.75,533.33 L380.00,533.24 L380.25,533.02 L380.50,532.77 L380.75,532.79 L381.00,532.73 L381.25,532.81 L381.50,532.86 L381.75,532.74 L382.00,532.76 L382.25,532.96 L382.50,533.01 L382.75,533.24 L383.00,533.29 L383.25,533.55 L383.50,533.76 L383.75,533.86 L384.00,533.95 L384.25,534.01 L384.50,533.87 L384.75,533.82 L385.00,533.55 L385.25,533.48 L385.50,533.47 L385.75,533.43 L386.00,533.29 L386.25,533.32 L386.50,533.38 L386.75,533.39 L387.00,533.47 L387.25,533.47 L387.50,533.37 L387.75,533.41 L388.00,533.44 L388.25,533.38 L388.50,533.30 L388.75,533.30 L389.00,533.25 L389.25,533.27 L389.50,533.27 L389.75,533.14 L390.00,533.17 L390.25,533.19 L390.50,533.18 L390.75,533.15 L391.00,533.15 L391.25,533.06 L391.50,533.04 L391.75,532.92 L392.00,532.94 L392.25,532.83 L392.50,532.87 L392.75,532.74 L393.00,532.76 L393.25,532.75 L393.50,532.93 L393.75,533.02 L394.00,533.17 L394.25,533.09 L394.50,533.26 L394.75,533.39 L395.00,533.46 L395.25,533.40 L395.50,533.40 L395.75,533.32 L396.00,533.34 L396.25,533.28 L396.50,533.20 L396.75,533.25 L397.00,533.18 L397.25,533.12 L397.50,533.13 L397.75,533.14 L398.00,533.25 L398.25,533.31 L398.50,533.33 L398.75,533.44 L399.00,533.47 L399.25,533.52 L399.50,533.67 L399.75,533.56 L400.00,533.55 L400.25,533.50 L400.50,533.44 L400.75,533.51 L401.00,533.44 L401.25,533.27 L401.50,533.28 L401.75,533.21 L402.00,533.16 L402.25,533.20 L402.50,533.23 L402.75,533.22 L403.00,533.16 L403.25,533.11 L403.50,532.96 L403.75,532.93 L404.00,532.81 L404.25,532.76 L404.50,532.83 L404.75,533.07 L405.00,533.09 L405.25,533.30 L405.50,533.44 L405.75,533.45 L406.00,533.39 L406.25,533.36 L406.50,533.19 L406.75,533.10 L407.00,532.96 L407.25,532.92 L407.50,532.94 L407.75,532.94 L408.00,532.77" fill="none" stroke="#4d4d4d" stroke-width="0.75"/><path d="M65.50,539.47V542.07M75.50,539.29V541.89M70.10,537.69V540.29M74.90,539.08V541.68M96.20,538.67V541.27M106.20,538.83V541.43M122.40,537.06V539.66M132.40,539.10V541.70M143.40,538.84V541.44M153.40,538.70V541.30M161.50,533.37V535.97M171.50,537.43V540.03M174.50,538.93V541.53M184.50,538.90V541.50M199.50,538.46V541.06M204.30,538.19V540.79M209.60,538.02V540.62M219.60,537.25V539.85M230.60,537.56V540.16M235.40,537.51V540.11M249.50,481.25V483.85M259.50,533.65V536.25M276.50,536.49V539.09M281.30,536.36V538.96M282.90,536.12V538.72M292.90,535.06V537.66M291.10,534.78V537.38M295.90,534.90V537.50M296.90,533.15V535.75M306.90,534.76V537.36M319.30,535.10V537.70M324.10,534.97V537.57M340.10,533.52V536.12M344.90,532.86V535.46M355.70,533.42V536.02M360.50,532.69V535.29M360.20,532.78V535.38M365.00,532.99V535.59M378.70,532.61V535.21M383.50,532.46V535.06M389.50,531.97V534.57M394.30,531.79V534.39" fill="none" stroke="#333" stroke-width="0.6"/><text class="pl plb" transform="translate(73.20,535.50) rotate(-90)">theanine 1.918</text><text class="pl plb" transform="translate(75.50,535.50) rotate(-90)">Unknown 1.985</text><text class="pl" transform="translate(103.90,536.20) rotate(-90)">theobromine 3.118</text><text class="pl" transform="translate(130.10,533.00) rotate(-90)">GC 4.127</text><text class="pl" transform="translate(151.10,512.00) rotate(-90)">caffeine 4.953</text><text class="pl" transform="translate(169.20,479.60) rotate(-90)">EGC 5.582</text><text class="pl" transform="translate(182.20,535.00) rotate(-90)">catechin 6.150</text><text class="pl" transform="translate(204.90,534.30) rotate(-90)">Unknown 7.032</text><text class="pl" transform="translate(217.30,520.40) rotate(-90)">EC 7.538</text><text class="pl" transform="translate(236.00,533.30) rotate(-90)">Unknown 8.212</text><text class="pl" transform="translate(257.20,474.90) rotate(-90)">EGCg 9.017</text><text class="pl" transform="translate(281.90,533.30) rotate(-90)">Unknown 9.983</text><text class="pl" transform="translate(290.60,533.60) rotate(-90)">ECg 10.340</text><text class="pl" transform="translate(296.50,533.00) rotate(-90)">Unknown 10.577</text><text class="pl" transform="translate(304.60,509.80) rotate(-90)">ECg 10.879</text><text class="pl" transform="translate(324.70,532.30) rotate(-90)">Unknown 11.675</text><text class="pl" transform="translate(345.50,530.10) rotate(-90)">Unknown 12.447</text><text class="pl" transform="translate(361.10,529.80) rotate(-90)">Unknown 13.023</text><text class="pl" transform="translate(365.60,529.80) rotate(-90)">Unknown 13.228</text><text class="pl" transform="translate(384.10,529.10) rotate(-90)">Unknown 13.947</text><text class="pl" transform="translate(394.90,528.80) rotate(-90)">Unknown 14.370</text><text class="num" x="69.90" y="503.10">1</text><text class="num" x="101.40" y="497.00">2</text><text class="num" x="128.10" y="511.60">4</text><text class="num" x="149.60" y="480.10">5</text><text class="num" x="167.50" y="455.20">6</text><text class="num" x="180.20" y="503.30">7</text><text class="num" x="215.60" y="498.60">8</text><text class="num" x="255.20" y="448.50">9</text><text class="num" x="288.10" y="506.80">10</text><text class="num" x="302.50" y="483.40">11</text><text class="ttl" x="361.80" y="472.60" textLength="33.2" lengthAdjust="spacingAndGlyphs">Daejak</text></g>
</svg>
</body></html>
